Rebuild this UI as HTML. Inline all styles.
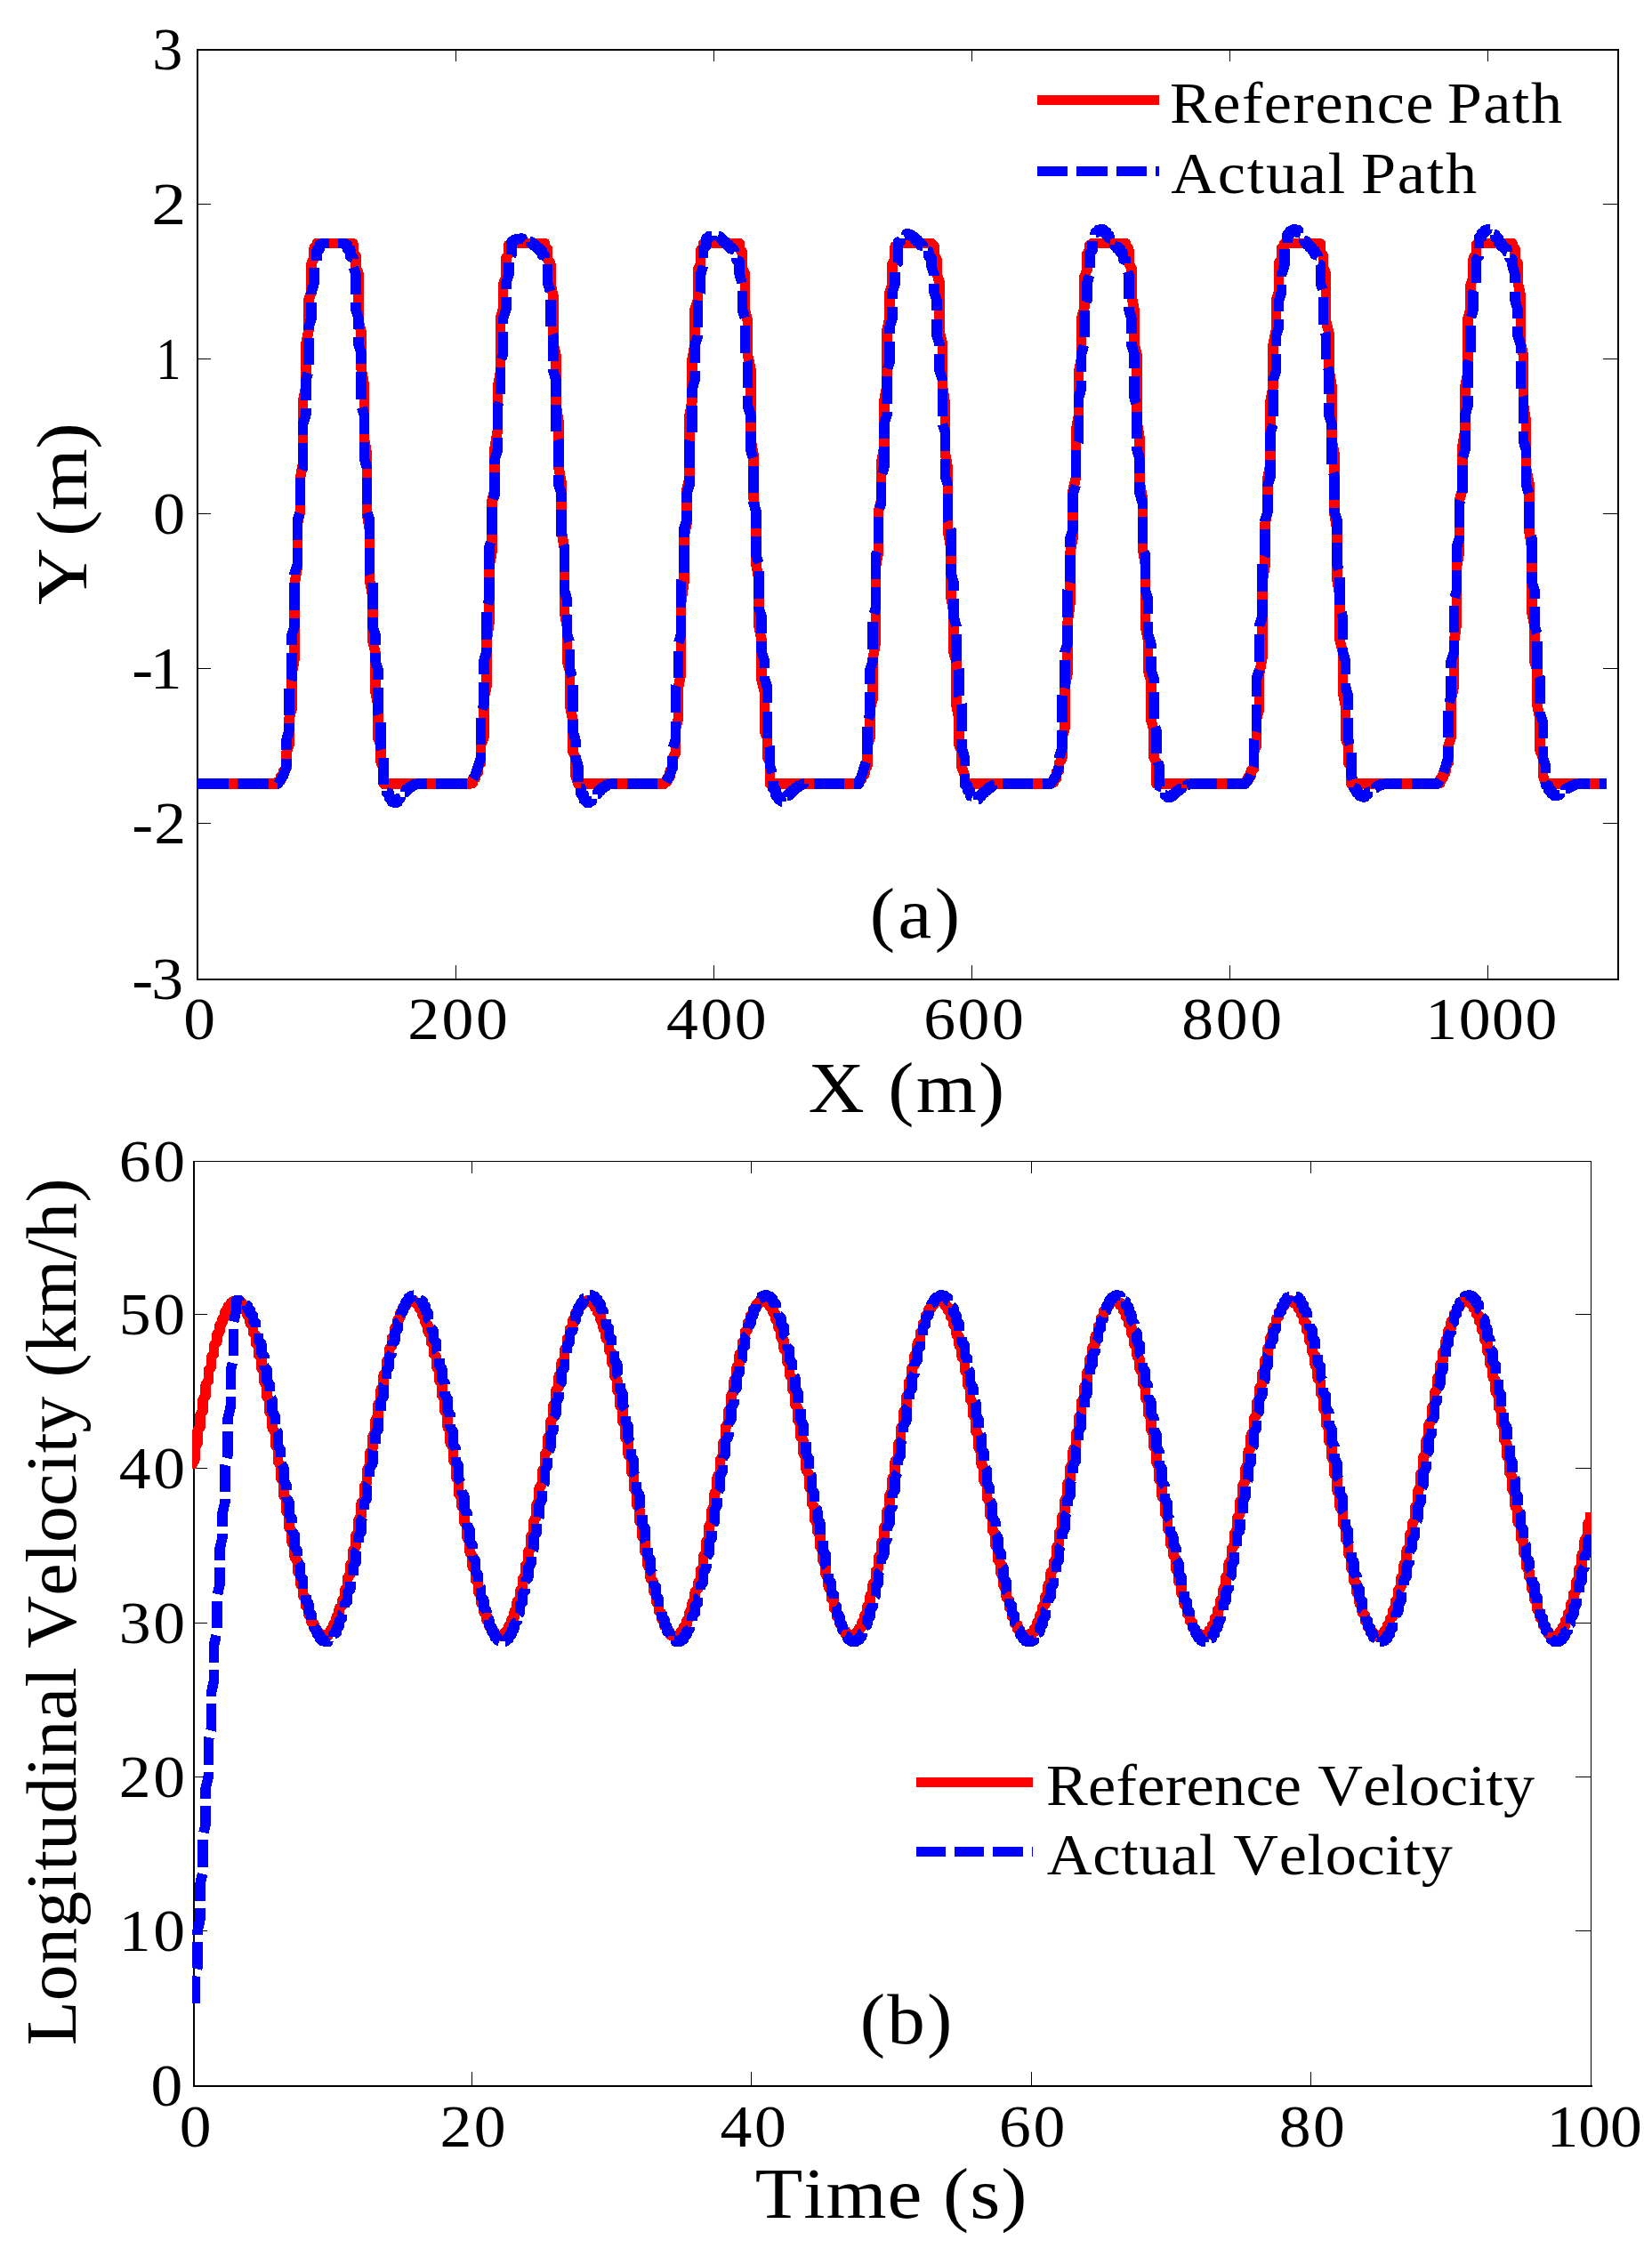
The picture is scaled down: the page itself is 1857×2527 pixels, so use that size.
<!DOCTYPE html>
<html lang="en"><head><meta charset="utf-8"><title>Path and velocity tracking</title>
<style>
html,body{margin:0;padding:0;background:#fff}
svg{display:block}
text{white-space:pre}
</style></head>
<body>
<svg width="1857" height="2527" viewBox="0 0 1857 2527">
<rect width="1857" height="2527" fill="#fff"/>
<g shape-rendering="crispEdges" fill="none" stroke="#000">
<rect x="222" y="56" width="1597" height="1045" stroke-width="2"/>
<path d="M512.5,1100V1085M512.5,57V69M802.5,1100V1085M802.5,57V69M1092.5,1100V1085M1092.5,57V69M1382.5,1100V1085M1382.5,57V69M1672.5,1100V1085M1672.5,57V69M223,925.5H237M1818,925.5H1802M223,751.5H237M1818,751.5H1802M223,577.5H237M1818,577.5H1802M223,403.5H237M1818,403.5H1802M223,229.5H237M1818,229.5H1802" stroke-width="1.2"/>
</g>
<g fill="none" stroke-linejoin="round" shape-rendering="crispEdges">
<polyline points="221.9,881.1 221.9,881.1 225.0,881.1 225.0,881.1 228.1,881.1 228.1,881.1 231.2,881.1 231.2,881.1 234.4,881.1 234.4,881.1 237.5,881.1 237.5,881.1 240.6,881.1 240.6,881.1 243.8,881.1 243.8,881.1 246.9,881.1 246.9,881.1 250.0,881.1 250.0,881.1 253.1,881.1 253.1,881.1 256.2,881.1 256.2,881.1 259.4,881.1 259.4,881.1 262.5,881.1 262.5,881.1 265.6,881.1 265.6,881.1 268.8,881.1 268.8,881.1 271.9,881.1 271.9,881.1 275.0,881.1 275.0,881.1 278.1,881.1 278.1,881.1 281.2,881.1 281.2,881.1 284.4,881.1 284.4,881.1 287.5,881.1 287.5,881.1 290.6,881.1 290.6,881.1 293.8,881.1 293.8,881.1 296.9,881.1 296.9,881.1 300.0,881.1 300.0,881.1 303.1,881.1 303.1,881.1 306.2,881.1 306.2,881.1 309.4,881.1 309.4,881.1 312.5,881.1 312.5,878.5 315.6,877.3 315.6,873.2 318.8,871.7 318.8,866.3 321.9,863.9 321.9,846.0 325.0,837.9 325.0,808.1 328.1,796.9 328.1,757.2 331.2,740.2 331.2,655.5 334.4,637.0 334.4,589.0 337.5,574.8 337.5,537.1 340.6,520.7 340.6,450.5 343.8,434.6 343.8,387.1 346.9,371.4 346.9,337.1 350.0,328.2 350.0,296.2 353.1,290.3 353.1,278.7 356.2,276.8 356.2,273.5 359.4,273.4 359.4,273.4 362.5,273.4 362.5,273.4 365.6,273.4 365.6,273.4 368.8,273.4 368.8,273.4 371.9,273.4 371.9,273.4 375.0,273.4 375.0,273.4 378.1,273.4 378.1,273.4 381.2,273.4 381.2,273.4 384.4,273.4 384.4,273.4 387.5,273.4 387.5,273.4 390.6,273.4 390.6,273.4 393.8,273.4 393.8,273.4 396.9,273.9 396.9,283.5 400.0,287.4 400.0,301.1 403.1,307.6 403.1,361.4 406.2,373.7 406.2,414.8 409.4,433.6 409.4,493.4 412.5,510.2 412.5,578.1 415.6,597.1 415.6,652.5 418.8,670.6 418.8,720.1 421.9,733.1 421.9,777.7 425.0,793.4 425.0,830.2 428.1,837.9 428.1,857.1 431.2,862.8 431.2,881.1 434.4,881.1 434.4,881.1 437.5,881.1 437.5,881.1 440.6,881.1 440.6,881.1 443.8,881.1 443.8,881.1 446.9,881.1 446.9,881.1 450.0,881.1 450.0,881.1 453.1,881.1 453.1,881.1 456.2,881.1 456.2,881.1 459.4,881.1 459.4,881.1 462.5,881.1 462.5,881.1 465.6,881.1 465.6,881.1 468.8,881.1 468.8,881.1 471.9,881.1 471.9,881.1 475.0,881.1 475.0,881.1 478.1,881.1 478.1,881.1 481.2,881.1 481.2,881.1 484.4,881.1 484.4,881.1 487.5,881.1 487.5,881.1 490.6,881.1 490.6,881.1 493.8,881.1 493.8,881.1 496.9,881.1 496.9,881.1 500.0,881.1 500.0,881.1 503.1,881.1 503.1,881.1 506.2,881.1 506.2,881.1 509.4,881.1 509.4,881.1 512.5,881.1 512.5,881.1 515.6,881.1 515.6,881.1 518.8,881.1 518.8,881.1 521.9,881.1 521.9,881.1 525.0,881.1 525.0,881.1 528.1,881.1 528.1,881.1 531.2,880.4 531.2,876.0 534.4,874.7 534.4,870.1 537.5,868.3 537.5,861.2 540.6,857.9 540.6,837.9 543.8,829.2 543.8,785.2 546.9,772.2 546.9,721.7 550.0,700.3 550.0,637.0 553.1,619.9 553.1,562.0 556.2,550.4 556.2,502.6 559.4,484.1 559.4,434.6 562.5,418.9 562.5,357.9 565.6,346.8 565.6,319.8 568.8,311.4 568.8,290.3 571.9,285.5 571.9,275.2 575.0,274.0 575.0,273.4 578.1,273.4 578.1,273.4 581.2,273.4 581.2,273.4 584.4,273.4 584.4,273.4 587.5,273.4 587.5,273.4 590.6,273.4 590.6,273.4 593.8,273.4 593.8,273.4 596.9,273.4 596.9,273.4 600.0,273.4 600.0,273.4 603.1,273.4 603.1,273.4 606.2,273.4 606.2,273.4 609.4,273.4 609.4,273.4 612.5,273.4 612.5,276.7 615.6,279.9 615.6,291.5 618.8,295.9 618.8,317.7 621.9,332.6 621.9,386.1 625.0,399.5 625.0,454.6 628.1,475.1 628.1,526.4 631.2,542.8 631.2,597.1 634.4,616.1 634.4,688.2 637.5,704.9 637.5,744.1 640.6,754.3 640.6,793.4 643.8,809.0 643.8,844.9 646.9,851.5 646.9,871.5 650.0,881.1 650.0,881.1 653.1,881.1 653.1,881.1 656.2,881.1 656.2,881.1 659.4,881.1 659.4,881.1 662.5,881.1 662.5,881.1 665.6,881.1 665.6,881.1 668.8,881.1 668.8,881.1 671.9,881.1 671.9,881.1 675.0,881.1 675.0,881.1 678.1,881.1 678.1,881.1 681.2,881.1 681.2,881.1 684.4,881.1 684.4,881.1 687.5,881.1 687.5,881.1 690.6,881.1 690.6,881.1 693.8,881.1 693.8,881.1 696.9,881.1 696.9,881.1 700.0,881.1 700.0,881.1 703.1,881.1 703.1,881.1 706.2,881.1 706.2,881.1 709.4,881.1 709.4,881.1 712.5,881.1 712.5,881.1 715.6,881.1 715.6,881.1 718.8,881.1 718.8,881.1 721.9,881.1 721.9,881.1 725.0,881.1 725.0,881.1 728.1,881.1 728.1,881.1 731.2,881.1 731.2,881.1 734.4,881.1 734.4,881.1 737.5,881.1 737.5,881.1 740.6,881.1 740.6,881.1 743.8,881.1 743.8,881.1 746.9,881.1 746.9,879.5 750.0,878.5 750.0,874.7 753.1,873.2 753.1,866.3 756.2,863.9 756.2,853.0 759.4,846.0 759.4,819.1 762.5,808.1 762.5,772.2 765.6,757.2 765.6,677.3 768.8,655.5 768.8,604.0 771.9,589.0 771.9,550.4 775.0,537.1 775.0,466.9 778.1,450.5 778.1,403.3 781.2,387.1 781.2,346.8 784.4,337.1 784.4,303.4 787.5,296.2 787.5,281.4 790.6,278.7 790.6,274.0 793.8,273.5 793.8,273.4 796.9,273.4 796.9,273.4 800.0,273.4 800.0,273.4 803.1,273.4 803.1,273.4 806.2,273.4 806.2,273.4 809.4,273.4 809.4,273.4 812.5,273.4 812.5,273.4 815.6,273.4 815.6,273.4 818.8,273.4 818.8,273.4 821.9,273.4 821.9,273.4 825.0,273.4 825.0,273.4 828.1,273.4 828.1,273.4 831.2,273.4 831.2,279.9 834.4,283.5 834.4,301.1 837.5,307.6 837.5,348.1 840.6,361.4 840.6,399.5 843.8,414.8 843.8,493.4 846.9,510.2 846.9,559.8 850.0,578.1 850.0,634.6 853.1,652.5 853.1,704.9 856.2,720.1 856.2,765.0 859.4,777.7 859.4,821.1 862.5,830.2 862.5,851.5 865.6,857.1 865.6,881.1 868.8,881.1 868.8,881.1 871.9,881.1 871.9,881.1 875.0,881.1 875.0,881.1 878.1,881.1 878.1,881.1 881.2,881.1 881.2,881.1 884.4,881.1 884.4,881.1 887.5,881.1 887.5,881.1 890.6,881.1 890.6,881.1 893.8,881.1 893.8,881.1 896.9,881.1 896.9,881.1 900.0,881.1 900.0,881.1 903.1,881.1 903.1,881.1 906.2,881.1 906.2,881.1 909.4,881.1 909.4,881.1 912.5,881.1 912.5,881.1 915.6,881.1 915.6,881.1 918.8,881.1 918.8,881.1 921.9,881.1 921.9,881.1 925.0,881.1 925.0,881.1 928.1,881.1 928.1,881.1 931.2,881.1 931.2,881.1 934.4,881.1 934.4,881.1 937.5,881.1 937.5,881.1 940.6,881.1 940.6,881.1 943.8,881.1 943.8,881.1 946.9,881.1 946.9,881.1 950.0,881.1 950.0,881.1 953.1,881.1 953.1,881.1 956.2,881.1 956.2,881.1 959.4,881.1 959.4,881.1 962.5,881.1 962.5,881.1 965.6,881.1 965.6,877.3 968.8,876.0 968.8,871.7 971.9,870.1 971.9,863.9 975.0,861.2 975.0,837.9 978.1,829.2 978.1,796.9 981.2,785.2 981.2,740.2 984.4,721.7 984.4,637.0 987.5,619.9 987.5,574.8 990.6,562.0 990.6,520.7 993.8,502.6 993.8,450.5 996.9,434.6 996.9,371.4 1000.0,357.9 1000.0,328.2 1003.1,319.8 1003.1,296.2 1006.2,290.3 1006.2,276.8 1009.4,275.2 1009.4,273.4 1012.5,273.4 1012.5,273.4 1015.6,273.4 1015.6,273.4 1018.8,273.4 1018.8,273.4 1021.9,273.4 1021.9,273.4 1025.0,273.4 1025.0,273.4 1028.1,273.4 1028.1,273.4 1031.2,273.4 1031.2,273.4 1034.4,273.4 1034.4,273.4 1037.5,273.4 1037.5,273.4 1040.6,273.4 1040.6,273.4 1043.8,273.4 1043.8,273.4 1046.9,273.4 1046.9,273.9 1050.0,276.7 1050.0,287.4 1053.1,291.5 1053.1,307.6 1056.2,317.7 1056.2,373.7 1059.4,386.1 1059.4,433.6 1062.5,454.6 1062.5,510.2 1065.6,526.4 1065.6,597.1 1068.8,616.1 1068.8,670.6 1071.9,688.2 1071.9,733.1 1075.0,744.1 1075.0,793.4 1078.1,809.0 1078.1,837.9 1081.2,844.9 1081.2,862.8 1084.4,871.5 1084.4,881.1 1087.5,881.1 1087.5,881.1 1090.6,881.1 1090.6,881.1 1093.8,881.1 1093.8,881.1 1096.9,881.1 1096.9,881.1 1100.0,881.1 1100.0,881.1 1103.1,881.1 1103.1,881.1 1106.2,881.1 1106.2,881.1 1109.4,881.1 1109.4,881.1 1112.5,881.1 1112.5,881.1 1115.6,881.1 1115.6,881.1 1118.8,881.1 1118.8,881.1 1121.9,881.1 1121.9,881.1 1125.0,881.1 1125.0,881.1 1128.1,881.1 1128.1,881.1 1131.2,881.1 1131.2,881.1 1134.4,881.1 1134.4,881.1 1137.5,881.1 1137.5,881.1 1140.6,881.1 1140.6,881.1 1143.8,881.1 1143.8,881.1 1146.9,881.1 1146.9,881.1 1150.0,881.1 1150.0,881.1 1153.1,881.1 1153.1,881.1 1156.2,881.1 1156.2,881.1 1159.4,881.1 1159.4,881.1 1162.5,881.1 1162.5,881.1 1165.6,881.1 1165.6,881.1 1168.8,881.1 1168.8,881.1 1171.9,881.1 1171.9,881.1 1175.0,881.1 1175.0,881.1 1178.1,881.1 1178.1,881.1 1181.2,881.1 1181.2,880.4 1184.4,879.5 1184.4,876.0 1187.5,874.7 1187.5,868.3 1190.6,866.3 1190.6,857.9 1193.8,853.0 1193.8,829.2 1196.9,819.1 1196.9,772.2 1200.0,757.2 1200.0,700.3 1203.1,677.3 1203.1,619.9 1206.2,604.0 1206.2,550.4 1209.4,537.1 1209.4,484.1 1212.5,466.9 1212.5,418.9 1215.6,403.3 1215.6,357.9 1218.8,346.8 1218.8,311.4 1221.9,303.4 1221.9,285.5 1225.0,281.4 1225.0,275.2 1228.1,274.0 1228.1,273.4 1231.2,273.4 1231.2,273.4 1234.4,273.4 1234.4,273.4 1237.5,273.4 1237.5,273.4 1240.6,273.4 1240.6,273.4 1243.8,273.4 1243.8,273.4 1246.9,273.4 1246.9,273.4 1250.0,273.4 1250.0,273.4 1253.1,273.4 1253.1,273.4 1256.2,273.4 1256.2,273.4 1259.4,273.4 1259.4,273.4 1262.5,273.4 1262.5,273.4 1265.6,273.4 1265.6,276.7 1268.8,279.9 1268.8,295.9 1271.9,301.1 1271.9,332.6 1275.0,348.1 1275.0,386.1 1278.1,399.5 1278.1,475.1 1281.2,493.4 1281.2,542.8 1284.4,559.8 1284.4,616.1 1287.5,634.6 1287.5,704.9 1290.6,720.1 1290.6,754.3 1293.8,765.0 1293.8,809.0 1296.9,821.1 1296.9,851.5 1300.0,857.1 1300.0,881.1 1303.1,881.1 1303.1,881.1 1306.2,881.1 1306.2,881.1 1309.4,881.1 1309.4,881.1 1312.5,881.1 1312.5,881.1 1315.6,881.1 1315.6,881.1 1318.8,881.1 1318.8,881.1 1321.9,881.1 1321.9,881.1 1325.0,881.1 1325.0,881.1 1328.1,881.1 1328.1,881.1 1331.2,881.1 1331.2,881.1 1334.4,881.1 1334.4,881.1 1337.5,881.1 1337.5,881.1 1340.6,881.1 1340.6,881.1 1343.8,881.1 1343.8,881.1 1346.9,881.1 1346.9,881.1 1350.0,881.1 1350.0,881.1 1353.1,881.1 1353.1,881.1 1356.2,881.1 1356.2,881.1 1359.4,881.1 1359.4,881.1 1362.5,881.1 1362.5,881.1 1365.6,881.1 1365.6,881.1 1368.8,881.1 1368.8,881.1 1371.9,881.1 1371.9,881.1 1375.0,881.1 1375.0,881.1 1378.1,881.1 1378.1,881.1 1381.2,881.1 1381.2,881.1 1384.4,881.1 1384.4,881.1 1387.5,881.1 1387.5,881.1 1390.6,881.1 1390.6,881.1 1393.8,881.1 1393.8,881.1 1396.9,881.1 1396.9,881.1 1400.0,881.1 1400.0,878.5 1403.1,877.3 1403.1,873.2 1406.2,871.7 1406.2,866.3 1409.4,863.9 1409.4,846.0 1412.5,837.9 1412.5,808.1 1415.6,796.9 1415.6,757.2 1418.8,740.2 1418.8,655.5 1421.9,637.0 1421.9,589.0 1425.0,574.8 1425.0,537.1 1428.1,520.7 1428.1,450.5 1431.2,434.6 1431.2,387.1 1434.4,371.4 1434.4,337.1 1437.5,328.2 1437.5,296.2 1440.6,290.3 1440.6,278.7 1443.8,276.8 1443.8,273.5 1446.9,273.4 1446.9,273.4 1450.0,273.4 1450.0,273.4 1453.1,273.4 1453.1,273.4 1456.2,273.4 1456.2,273.4 1459.4,273.4 1459.4,273.4 1462.5,273.4 1462.5,273.4 1465.6,273.4 1465.6,273.4 1468.8,273.4 1468.8,273.4 1471.9,273.4 1471.9,273.4 1475.0,273.4 1475.0,273.4 1478.1,273.4 1478.1,273.4 1481.2,273.4 1481.2,273.4 1484.4,273.9 1484.4,283.5 1487.5,287.4 1487.5,301.1 1490.6,307.6 1490.6,361.4 1493.8,373.7 1493.8,414.8 1496.9,433.6 1496.9,493.4 1500.0,510.2 1500.0,578.1 1503.1,597.1 1503.1,652.5 1506.2,670.6 1506.2,720.1 1509.4,733.1 1509.4,777.7 1512.5,793.4 1512.5,830.2 1515.6,837.9 1515.6,857.1 1518.8,862.8 1518.8,881.1 1521.9,881.1 1521.9,881.1 1525.0,881.1 1525.0,881.1 1528.1,881.1 1528.1,881.1 1531.2,881.1 1531.2,881.1 1534.4,881.1 1534.4,881.1 1537.5,881.1 1537.5,881.1 1540.6,881.1 1540.6,881.1 1543.8,881.1 1543.8,881.1 1546.9,881.1 1546.9,881.1 1550.0,881.1 1550.0,881.1 1553.1,881.1 1553.1,881.1 1556.2,881.1 1556.2,881.1 1559.4,881.1 1559.4,881.1 1562.5,881.1 1562.5,881.1 1565.6,881.1 1565.6,881.1 1568.8,881.1 1568.8,881.1 1571.9,881.1 1571.9,881.1 1575.0,881.1 1575.0,881.1 1578.1,881.1 1578.1,881.1 1581.2,881.1 1581.2,881.1 1584.4,881.1 1584.4,881.1 1587.5,881.1 1587.5,881.1 1590.6,881.1 1590.6,881.1 1593.8,881.1 1593.8,881.1 1596.9,881.1 1596.9,881.1 1600.0,881.1 1600.0,881.1 1603.1,881.1 1603.1,881.1 1606.2,881.1 1606.2,881.1 1609.4,881.1 1609.4,881.1 1612.5,881.1 1612.5,881.1 1615.6,881.1 1615.6,881.1 1618.8,880.4 1618.8,876.0 1621.9,874.7 1621.9,870.1 1625.0,868.3 1625.0,861.2 1628.1,857.9 1628.1,837.9 1631.2,829.2 1631.2,785.2 1634.4,772.2 1634.4,721.7 1637.5,700.3 1637.5,637.0 1640.6,619.9 1640.6,562.0 1643.8,550.4 1643.8,502.6 1646.9,484.1 1646.9,434.6 1650.0,418.9 1650.0,357.9 1653.1,346.8 1653.1,319.8 1656.2,311.4 1656.2,290.3 1659.4,285.5 1659.4,275.2 1662.5,274.0 1662.5,273.4 1665.6,273.4 1665.6,273.4 1668.8,273.4 1668.8,273.4 1671.9,273.4 1671.9,273.4 1675.0,273.4 1675.0,273.4 1678.1,273.4 1678.1,273.4 1681.2,273.4 1681.2,273.4 1684.4,273.4 1684.4,273.4 1687.5,273.4 1687.5,273.4 1690.6,273.4 1690.6,273.4 1693.8,273.4 1693.8,273.4 1696.9,273.4 1696.9,273.4 1700.0,273.4 1700.0,276.7 1703.1,279.9 1703.1,291.5 1706.2,295.9 1706.2,317.7 1709.4,332.6 1709.4,386.1 1712.5,399.5 1712.5,454.6 1715.6,475.1 1715.6,526.4 1718.8,542.8 1718.8,597.1 1721.9,616.1 1721.9,688.2 1725.0,704.9 1725.0,744.1 1728.1,754.3 1728.1,793.4 1731.2,809.0 1731.2,844.9 1734.4,851.5 1734.4,871.5 1737.5,881.1 1737.5,881.1 1740.6,881.1 1740.6,881.1 1743.8,881.1 1743.8,881.1 1746.9,881.1 1746.9,881.1 1750.0,881.1 1750.0,881.1 1753.1,881.1 1753.1,881.1 1756.2,881.1 1756.2,881.1 1759.4,881.1 1759.4,881.1 1762.5,881.1 1762.5,881.1 1765.6,881.1 1765.6,881.1 1768.8,881.1 1768.8,881.1 1771.9,881.1 1771.9,881.1 1775.0,881.1 1775.0,881.1 1778.1,881.1 1778.1,881.1 1781.2,881.1 1781.2,881.1 1784.4,881.1 1784.4,881.1 1787.5,881.1 1787.5,881.1 1790.6,881.1 1790.6,881.1 1793.8,881.1 1793.8,881.1 1796.9,881.1 1796.9,881.1 1800.0,881.1 1800.0,881.1 1803.1,881.1 1803.1,881.1 1806.2,881.1 1806.2,881.1" stroke="#f00" stroke-width="11.5"/>
<path d="M221.9,881.1 L256.7,881.1M267.1,881.1 L301.9,881.1M312.3,881.1 L312.5,881.1 L318.8,871.2 L321.9,861.3 L321.9,852.5M321.9,843.4 L321.9,831.7 L325.0,821.8 L325.0,813.2M325.0,804.1 L325.0,773.6M327.4,764.8 L328.1,762.6 L328.1,734.3M328.1,725.2 L328.1,713.3 L331.2,703.4 L331.2,695.0M331.2,685.9 L331.2,655.4M331.2,646.3 L331.2,644.2 L334.4,634.3 L334.4,616.1M334.4,607.0 L334.4,584.9 L337.0,576.8M337.5,567.7 L337.5,537.2M339.8,528.3 L340.6,525.7 L340.6,497.9M340.6,488.8 L340.6,476.4 L343.8,466.5 L343.8,458.6M343.8,449.5 L343.8,427.0 L346.2,419.3M346.9,410.2 L346.9,379.7M346.9,370.6 L346.9,367.8 L350.0,357.9 L350.0,340.4M350.0,331.3 L350.0,328.3 L353.1,318.4 L353.1,301.2M356.2,293.3 L356.2,280.8 L359.4,279.7 L359.4,274.8 L362.5,274.4 L362.5,273.4 L365.6,273.4 L368.8,273.4 L369.9,273.4M380.3,273.4 L381.2,273.4 L384.4,273.4 L387.5,273.4 L387.5,275.1 L390.6,275.5 L390.6,280.1 L393.8,280.7 L393.8,288.6 L396.9,289.9 L396.9,291.4M397.4,300.5 L400.0,308.6 L400.0,330.7M400.0,339.8 L400.0,348.0 L403.1,357.9 L403.1,370.0M403.1,379.1 L403.1,387.5 L406.2,397.4 L406.2,409.2M406.2,418.4 L406.2,448.9M406.7,458.0 L409.4,466.5 L409.4,488.2M409.4,497.3 L409.4,515.8 L412.5,525.7 L412.5,527.4M412.5,536.6 L412.5,567.1M412.8,576.2 L415.6,584.9 L415.6,606.4M415.6,615.5 L415.6,644.2 L416.2,645.9M418.8,654.8 L418.8,685.3M418.8,694.4 L418.8,703.4 L421.9,713.3 L421.9,724.6M421.9,733.7 L421.9,742.9 L425.0,752.7 L425.0,763.8M425.0,773.0 L425.0,802.1 L425.4,803.4M428.1,812.2 L428.1,841.6 L428.5,842.7M431.2,851.5 L431.2,882.0M434.4,889.2 L434.4,890.8 L437.5,891.6 L437.5,897.1 L440.6,897.8 L440.6,901.7 L443.8,902.0 L443.8,902.3 L446.9,901.8 L446.9,897.9 L450.0,897.5 L450.0,896.1M454.8,890.5 L456.2,890.4 L456.2,887.6 L459.4,887.2 L459.4,885.2 L462.5,884.9 L462.5,883.0 L465.6,882.8 L465.6,881.5 L468.8,881.4 L468.8,881.1 L479.9,881.1M490.3,881.1 L525.0,881.1 L525.1,881.1M531.7,875.4 L534.4,871.2 L537.5,861.3 L540.6,851.4 L540.6,846.2M540.6,837.1 L540.6,806.6M542.0,797.6 L543.8,792.2 L543.8,767.3M543.8,758.2 L543.8,742.9 L546.9,733.0 L546.9,728.0M546.9,718.9 L546.9,688.4M548.2,679.4 L550.0,673.8 L550.0,649.1M550.0,640.0 L550.0,614.5 L551.6,609.6M553.1,600.7 L553.1,570.2M554.4,561.2 L556.2,555.3 L556.2,530.9M556.2,521.8 L556.2,515.8 L559.4,506.0 L559.4,491.6M559.4,482.5 L559.4,456.6 L560.8,452.1M562.5,443.2 L562.5,412.7M563.6,403.7 L565.6,397.4 L565.6,373.4M565.6,364.3 L565.6,357.9 L568.8,348.0 L568.8,334.1M568.8,325.0 L568.8,318.4 L571.9,308.6 L571.9,294.9M574.7,286.7 L575.0,286.4 L575.0,271.1 L578.1,270.9 L578.1,269.4 L581.2,269.2 L581.2,268.5 L584.4,268.5 L584.4,268.2 L587.5,268.2 L587.5,268.9 L588.4,268.9M596.0,271.8 L596.9,271.8 L596.9,273.6 L600.0,273.9 L600.0,276.1 L603.1,276.3 L603.1,278.5 L606.2,278.8 L606.2,281.4 L609.4,281.8 L609.4,286.6 L612.5,287.6 L612.5,289.9M615.6,297.2 L615.6,318.4 L618.5,327.4M618.8,336.5 L618.8,367.0M621.3,375.9 L621.9,377.7 L621.9,406.3M621.9,415.4 L621.9,417.1 L625.0,427.0 L625.0,445.6M625.0,454.7 L625.0,485.2M627.5,494.1 L628.1,496.1 L628.1,524.5M628.1,533.6 L628.1,545.5 L631.2,555.3 L631.2,563.8M631.2,572.9 L631.2,603.4M633.7,612.3 L634.4,614.5 L634.4,642.7M634.4,651.8 L634.4,663.9 L637.5,673.8 L637.5,682.0M637.5,691.1 L637.5,713.3 L640.1,721.3M640.6,730.4 L640.6,752.7 L643.1,760.6M643.8,769.7 L643.8,800.2M643.8,809.3 L643.8,821.8 L646.9,831.7 L646.9,839.5M646.9,848.6 L646.9,851.4 L650.0,861.3 L650.0,878.7M653.0,886.0 L653.1,886.0 L653.1,892.5 L656.2,893.4 L656.2,899.0 L659.4,899.6 L659.4,902.2 L662.5,902.4 L662.5,900.8 L665.6,900.3 L665.6,897.5M671.4,892.8 L671.9,892.7 L671.9,889.6 L675.0,889.3 L675.0,886.6 L678.1,886.3 L678.1,884.4 L681.2,884.1 L681.2,882.4 L684.4,882.2 L684.4,881.3 L687.5,881.2 L687.5,881.1 L694.2,881.1M704.6,881.1 L739.4,881.1M748.3,878.8 L753.1,871.2 L756.2,861.3 L756.2,849.7M756.5,840.7 L759.4,831.7 L759.4,810.5M759.4,801.3 L759.4,772.5 L759.9,770.9M762.5,762.1 L762.5,731.5M762.7,722.4 L765.6,713.3 L765.6,692.3M765.6,683.1 L765.6,654.0 L766.1,652.7M768.8,643.9 L768.8,613.3M768.8,604.2 L768.8,594.8 L771.9,584.9 L771.9,574.1M771.9,564.9 L771.9,555.3 L775.0,545.5 L775.0,534.8M775.0,525.7 L775.0,496.1 L775.3,495.2M778.1,486.4 L778.1,486.2 L778.1,455.9M778.1,446.7 L778.1,436.9 L781.2,427.0 L781.2,416.6M781.2,407.5 L781.2,387.5 L784.4,377.7 L784.4,377.3M784.4,368.2 L784.4,338.2 L784.5,337.7M787.3,328.9 L787.5,328.3 L787.5,308.6 L790.6,298.8M790.6,289.6 L790.6,279.8 L793.8,277.1 L793.8,267.9 L796.9,267.6 L796.9,265.5 L800.0,265.3 L800.0,265.2M807.3,265.8 L809.4,266.0 L809.4,268.3 L812.5,268.6 L812.5,271.3 L815.6,271.7 L815.6,274.4 L818.8,274.8 L818.8,277.4 L821.9,277.7 L821.9,280.0 L825.0,280.3 L825.0,282.6M828.1,289.5 L828.1,292.7 L831.2,293.9 L831.2,308.6 L834.2,317.9M834.4,327.1 L834.4,348.0 L837.3,357.2M837.5,366.3 L837.5,396.9M840.1,405.7 L840.6,407.3 L840.6,436.1M840.6,445.3 L840.6,456.6 L843.8,466.5 L843.8,475.4M843.8,484.5 L843.8,506.0 L846.5,514.7M846.9,523.8 L846.9,554.3M846.9,563.5 L846.9,565.2 L850.0,575.1 L850.0,593.6M850.0,602.7 L850.0,624.4 L852.7,632.9M853.1,642.0 L853.1,672.5M853.1,681.7 L853.1,683.6 L856.2,693.5 L856.2,711.8M856.2,720.9 L856.2,733.0 L859.4,742.9 L859.4,751.1M859.4,760.2 L859.4,762.6 L862.5,772.5 L862.5,790.4M862.5,799.5 L862.5,830.0M864.8,838.9 L865.6,841.6 L865.6,861.3 L868.1,869.0M868.8,878.0 L868.8,886.5 L871.9,887.4 L871.9,893.8 L875.0,894.5 L875.0,898.5 L878.1,899.0 L878.1,901.0 L879.4,901.0M884.4,895.9 L884.4,894.5 L887.5,894.1 L887.5,891.0 L890.6,890.7 L890.6,888.0 L893.8,887.7 L893.8,885.6 L896.9,885.4 L896.9,883.4 L900.0,883.2 L900.0,882.0 L903.1,881.8 L903.1,881.1 L904.1,881.1M914.5,881.1 L949.3,881.1M959.7,881.1 L965.6,881.1 L968.8,871.2 L971.9,861.3 L973.3,856.7M975.0,847.7 L975.0,817.2M976.2,808.2 L978.1,802.1 L978.1,777.9M978.1,768.8 L978.1,752.7 L981.2,742.9 L981.2,738.7M981.2,729.5 L981.2,699.0M982.4,690.0 L984.4,683.6 L984.4,659.7M984.4,650.6 L984.4,624.4 L985.7,620.2M987.5,611.3 L987.5,580.8M988.5,571.8 L990.6,565.2 L990.6,541.5M991.6,532.5 L993.8,525.7 L993.8,502.3M993.8,493.1 L993.8,476.4 L996.9,466.5 L996.9,463.0M996.9,453.9 L996.9,423.3M997.8,414.3 L1000.0,407.3 L1000.0,384.1M1000.0,374.9 L1000.0,367.8 L1003.1,357.9 L1003.1,344.8M1003.1,335.7 L1003.1,328.3 L1006.2,318.4 L1006.2,305.5M1007.9,296.9 L1009.4,295.4 L1009.4,272.4 L1012.5,270.7 L1012.5,268.4M1018.3,263.9 L1018.8,263.9 L1018.8,263.0 L1021.9,263.0 L1021.9,263.9 L1025.0,264.1 L1025.0,266.2 L1028.1,266.5 L1028.1,269.0 L1031.2,269.4 L1031.2,272.1 L1034.4,272.5 L1034.4,275.7 L1037.5,276.1 L1037.5,277.4M1043.1,282.3 L1043.8,282.4 L1043.8,288.1 L1046.9,289.2 L1046.9,298.7 L1050.0,308.6 L1050.0,310.1M1050.0,319.2 L1050.0,328.3 L1053.1,338.2 L1053.1,349.4M1053.1,358.5 L1053.1,377.7 L1056.2,387.5 L1056.2,388.6M1056.2,397.8 L1056.2,417.1 L1059.4,427.0 L1059.4,427.9M1059.4,437.0 L1059.4,467.6M1059.5,476.7 L1062.5,486.2 L1062.5,506.8M1062.5,516.0 L1062.5,535.6 L1065.6,545.5 L1065.6,546.1M1065.6,555.2 L1065.6,584.9 L1065.9,585.7M1068.7,594.5 L1068.8,594.8 L1068.8,625.0M1068.8,634.2 L1068.8,644.2 L1071.9,654.0 L1071.9,664.3M1071.9,673.4 L1071.9,693.5 L1075.0,703.4 L1075.0,703.6M1075.0,712.7 L1075.0,742.9 L1075.1,743.2M1077.9,752.0 L1078.1,752.7 L1078.1,782.3 L1078.2,782.5M1081.0,791.3 L1081.2,792.2 L1081.2,821.8M1081.2,830.9 L1081.2,841.6 L1084.4,851.4 L1084.4,861.1M1084.4,870.2 L1084.4,881.9 L1087.5,882.7 L1087.5,888.4 L1090.6,889.2 L1090.6,894.6 L1092.9,895.0M1099.3,898.6 L1100.0,898.5 L1100.0,895.2 L1103.1,894.8 L1103.1,892.2 L1106.2,891.9 L1106.2,889.2 L1109.4,888.9 L1109.4,886.8 L1112.5,886.5 L1112.5,884.5 L1115.6,884.3 L1115.6,882.7 L1117.7,882.6M1126.6,881.1 L1161.4,881.1M1171.8,881.1 L1178.1,881.1 L1181.2,881.1 L1187.5,871.2 L1190.6,861.3 L1190.6,860.6M1190.6,851.5 L1190.6,851.4 L1193.8,841.6 L1193.8,821.4M1193.8,812.2 L1193.8,782.3 L1193.9,781.7M1196.7,772.9 L1196.9,772.5 L1196.9,742.4M1196.9,733.3 L1196.9,733.0 L1200.0,723.1 L1200.0,703.2M1200.0,694.0 L1200.0,663.9 L1200.1,663.5M1202.9,654.7 L1203.1,654.0 L1203.1,624.2M1203.1,615.1 L1203.1,604.7 L1206.2,594.8 L1206.2,585.0M1206.2,575.8 L1206.2,555.3 L1209.3,545.7M1209.4,536.6 L1209.4,506.0M1212.1,497.2 L1212.5,496.1 L1212.5,466.8M1212.5,457.6 L1212.5,446.7 L1215.6,436.9 L1215.6,427.5M1215.6,418.4 L1215.6,397.4 L1218.5,388.2M1218.8,379.1 L1218.8,348.6M1221.4,339.8 L1221.9,338.2 L1221.9,318.4 L1224.7,309.6M1225.0,300.5 L1225.0,284.8 L1228.1,281.5 L1228.1,271.0M1231.2,264.0 L1231.2,261.3 L1234.4,260.9 L1234.4,258.4 L1237.5,258.2 L1237.5,257.8 L1240.6,257.9 L1240.6,260.3 L1243.8,260.7 L1243.8,264.5 L1246.9,264.9 L1246.9,268.3 L1248.7,268.7M1253.1,274.6 L1253.1,277.0 L1256.2,277.3 L1256.2,279.9 L1259.4,280.3 L1259.4,284.0 L1262.5,284.7 L1262.5,291.4 L1265.6,292.6 L1265.6,296.3M1267.7,305.2 L1268.8,308.6 L1268.8,335.6M1268.8,344.7 L1268.8,348.0 L1271.9,357.9 L1271.9,374.9M1271.9,384.0 L1271.9,387.5 L1275.0,397.4 L1275.0,414.1M1275.0,423.3 L1275.0,446.7 L1277.1,453.5M1278.1,462.5 L1278.1,493.1M1278.1,502.2 L1278.1,506.0 L1281.2,515.8 L1281.2,532.3M1281.2,541.5 L1281.2,555.3 L1284.4,565.2 L1284.4,571.6M1284.4,580.7 L1284.4,611.3M1286.2,620.2 L1287.5,624.4 L1287.5,650.5M1287.5,659.7 L1287.5,663.9 L1290.6,673.8 L1290.6,689.8M1290.6,698.9 L1290.6,713.3 L1293.8,723.1 L1293.8,729.1M1293.8,738.2 L1293.8,752.7 L1296.9,762.6 L1296.9,768.4M1296.9,777.5 L1296.9,808.0M1298.5,817.0 L1300.0,821.8 L1300.0,847.3M1301.5,856.2 L1303.1,861.3 L1303.1,883.9 L1306.0,884.6M1309.4,891.4 L1309.4,894.0 L1312.5,894.4 L1312.5,896.5 L1315.6,896.6 L1315.6,895.3 L1318.8,894.9 L1318.8,892.2 L1321.9,891.9 L1321.9,889.4 L1325.0,889.1 L1325.0,887.2 L1328.1,887.0 L1328.1,886.1M1334.4,882.1 L1334.4,882.0 L1337.5,881.9 L1337.5,881.2 L1340.6,881.1 L1340.6,881.1 L1368.2,881.1M1378.6,881.1 L1393.8,881.1 L1400.0,881.1 L1406.2,871.2 L1406.4,870.7M1409.2,861.9 L1409.4,861.3 L1409.4,831.7 L1409.5,831.4M1412.2,822.6 L1412.5,821.8 L1412.5,792.1M1412.5,783.0 L1412.5,762.6 L1415.6,752.9M1415.6,743.7 L1415.6,713.2M1415.6,704.1 L1415.6,703.4 L1418.8,693.5 L1418.8,673.9M1418.8,664.8 L1418.8,634.3M1421.5,625.5 L1421.9,624.4 L1421.9,595.0M1421.9,585.9 L1421.9,584.9 L1425.0,575.1 L1425.0,555.7M1425.0,546.6 L1425.0,545.5 L1428.1,535.6 L1428.1,516.5M1428.1,507.3 L1428.1,486.2 L1431.0,477.2M1431.2,468.1 L1431.2,437.5M1431.2,428.4 L1431.2,427.0 L1434.4,417.1 L1434.4,398.3M1434.4,389.1 L1434.4,377.7 L1437.5,367.8 L1437.5,359.0M1437.5,349.9 L1437.5,338.2 L1440.6,328.3 L1440.6,319.7M1440.6,310.6 L1440.6,308.6 L1443.8,298.7 L1443.8,280.4M1446.9,272.5 L1446.9,263.9 L1450.0,263.3 L1450.0,259.7 L1453.1,259.4 L1453.1,258.0 L1456.2,257.9 L1456.2,258.6 L1459.4,258.8 L1459.4,261.6 L1462.0,262.0M1465.6,268.5 L1465.6,270.6 L1468.8,271.2 L1468.8,274.9 L1471.9,275.4 L1471.9,278.3 L1475.0,278.6 L1475.0,281.5 L1478.1,281.9 L1478.1,286.3 L1481.2,287.2 L1481.2,287.7M1481.7,296.6 L1484.4,297.7 L1484.4,318.4 L1486.6,325.3M1487.5,334.4 L1487.5,364.9M1489.4,373.8 L1490.6,377.7 L1490.6,404.2M1492.5,413.1 L1493.8,417.1 L1493.8,443.4M1493.8,452.6 L1493.8,466.5 L1496.9,476.4 L1496.9,482.7M1496.9,491.8 L1496.9,522.4M1498.6,531.3 L1500.0,535.6 L1500.0,561.6M1500.0,570.8 L1500.0,575.1 L1503.1,584.9 L1503.1,600.9M1503.1,610.0 L1503.1,634.3 L1505.0,640.3M1506.2,649.3 L1506.2,679.8M1507.9,688.8 L1509.4,693.5 L1509.4,719.1M1509.4,728.2 L1509.4,733.0 L1512.5,742.9 L1512.5,758.4M1512.5,767.5 L1512.5,772.5 L1515.6,782.3 L1515.6,797.7M1515.6,806.8 L1515.6,831.7 L1517.3,837.1M1518.8,846.1 L1518.8,871.2 L1520.4,876.4M1521.9,885.3 L1521.9,885.8 L1525.0,886.4 L1525.0,891.0 L1528.1,891.5 L1528.1,894.6 L1531.2,894.9 L1531.2,895.8 L1534.4,895.9 L1534.4,893.2 L1537.5,892.8 L1537.5,890.4 L1540.3,890.1M1546.2,885.8 L1546.9,885.7 L1546.9,884.2 L1550.0,884.0 L1550.0,882.7 L1553.1,882.5 L1553.1,881.5 L1556.2,881.4 L1556.2,881.1 L1576.2,881.1M1586.6,881.1 L1612.5,881.1 L1615.6,881.1 L1618.4,876.7M1622.7,868.4 L1625.0,861.3 L1628.1,851.4 L1628.1,838.5M1628.1,829.4 L1628.1,798.9M1628.9,789.9 L1631.2,782.3 L1631.2,759.6M1631.2,750.5 L1631.2,742.9 L1634.4,733.0 L1634.4,720.3M1634.4,711.2 L1634.4,680.7M1635.0,671.7 L1637.5,663.9 L1637.5,641.4M1637.5,632.3 L1637.5,614.5 L1640.6,604.7 L1640.6,602.1M1640.6,593.0 L1640.6,565.2 L1641.4,562.6M1643.8,553.7 L1643.8,523.2M1644.3,514.2 L1646.9,506.0 L1646.9,483.9M1646.9,474.8 L1646.9,466.5 L1650.0,456.6 L1650.0,444.7M1650.0,435.5 L1650.0,407.3 L1650.7,405.1M1653.1,396.3 L1653.1,365.7M1653.5,356.7 L1656.2,348.0 L1656.2,328.3 L1656.8,326.5M1659.4,317.7 L1659.4,291.7 L1662.5,288.2 L1662.5,288.1M1662.5,279.0 L1662.5,267.3 L1665.6,266.4 L1665.6,262.3 L1668.8,261.8 L1668.8,258.9 L1671.9,258.6 L1671.9,257.8 L1674.8,257.8M1679.1,263.7 L1681.2,264.0 L1681.2,267.3 L1684.4,267.8 L1684.4,272.3 L1687.5,272.9 L1687.5,276.6 L1690.6,277.0 L1690.6,279.3 L1693.8,279.6 L1693.8,282.9 L1694.1,283.0M1696.9,290.1 L1696.9,290.3 L1700.0,291.4 L1700.0,298.7 L1703.1,308.6 L1703.1,318.4M1703.1,327.6 L1703.1,338.2 L1706.2,348.0 L1706.2,357.7M1706.2,366.8 L1706.2,377.7 L1709.4,387.5 L1709.4,397.0M1709.4,406.1 L1709.4,436.6M1712.1,445.4 L1712.5,446.7 L1712.5,475.9M1712.5,485.0 L1712.5,496.1 L1715.6,506.0 L1715.6,515.2M1715.6,524.3 L1715.6,545.5 L1718.5,554.5M1718.8,563.6 L1718.8,594.1M1721.3,602.9 L1721.9,604.7 L1721.9,633.4M1721.9,642.5 L1721.9,654.0 L1725.0,663.9 L1725.0,672.7M1725.0,681.8 L1725.0,703.4 L1727.7,712.0M1728.1,721.1 L1728.1,751.6M1730.6,760.4 L1731.2,762.6 L1731.2,790.9M1731.2,800.0 L1731.2,802.1 L1734.4,812.0 L1734.4,830.1M1734.4,839.3 L1734.4,851.4 L1737.5,861.3 L1737.5,869.4M1737.5,878.5 L1737.5,882.3 L1740.6,883.0 L1740.6,887.8 L1743.8,888.4 L1743.8,891.8 L1746.9,892.2 L1746.9,894.5 L1750.0,894.6 L1750.0,894.0 L1753.1,893.7 L1753.1,892.0M1759.4,887.8 L1759.4,886.8 L1762.5,886.5 L1762.5,885.0 L1765.6,884.8 L1765.6,883.3 L1768.8,883.2 L1768.8,882.2 L1771.9,882.0 L1771.9,881.3 L1775.0,881.2 L1775.0,881.1 L1787.3,881.1M1797.7,881.1 L1806.2,881.1" stroke="#00f" stroke-width="11.5"/>
<path d="M1166,112.5H1303" stroke="#f00" stroke-width="11"/>
<path d="M1166,192H1303" stroke="#00f" stroke-width="11" stroke-dasharray="34.2 10.1"/>
</g>
<g font-family='"Liberation Serif", serif' style="font-kerning:none" fill="#000">
<text transform="translate(1314.98,138.00) scale(1.0800,1)" font-size="65" style="letter-spacing:1.405px;word-spacing:-5px" fill="#000">Reference Path</text>
<text transform="translate(1316.31,217.20) scale(1.0800,1)" font-size="65" style="letter-spacing:1.628px;word-spacing:-3px" fill="#000">Actual Path</text>
<text transform="translate(171.14,77.70) scale(1.0153,1)" font-size="67" style="letter-spacing:0.000px;word-spacing:0.0px" fill="#000">3</text>
<text transform="translate(170.37,251.70) scale(1.1653,1)" font-size="67" style="letter-spacing:0.000px;word-spacing:0.0px" fill="#000">2</text>
<text transform="translate(175.33,425.65) scale(0.8437,1)" font-size="67" style="letter-spacing:0.000px;word-spacing:0.0px" fill="#000">1</text>
<text transform="translate(171.94,599.75) scale(1.0811,1)" font-size="67" style="letter-spacing:0.000px;word-spacing:0.0px" fill="#000">0</text>
<text transform="translate(148.24,773.85) scale(1.0700,1)" font-size="67" style="letter-spacing:-3.227px;word-spacing:0.0px" fill="#000">-1</text>
<text transform="translate(148.24,947.95) scale(1.0700,1)" font-size="67" style="letter-spacing:1.026px;word-spacing:0.0px" fill="#000">-2</text>
<text transform="translate(148.24,1123.30) scale(1.0700,1)" font-size="67" style="letter-spacing:-1.830px;word-spacing:0.0px" fill="#000">-3</text>
<text transform="translate(206.28,1168.30) scale(1.0670,1)" font-size="67" style="letter-spacing:0.000px;word-spacing:0.0px" fill="#000">0</text>
<text transform="translate(458.15,1168.30) scale(1.0700,1)" font-size="67" style="letter-spacing:2.400px">200</text>
<text transform="translate(749.03,1168.30) scale(1.0700,1)" font-size="67" style="letter-spacing:2.400px">400</text>
<text transform="translate(1038.19,1168.30) scale(1.0700,1)" font-size="67" style="letter-spacing:2.400px">600</text>
<text transform="translate(1328.36,1168.30) scale(1.0700,1)" font-size="67" style="letter-spacing:2.400px">800</text>
<text transform="translate(1602.20,1168.30) scale(1.0700,1)" font-size="67" style="letter-spacing:1.511px;word-spacing:0.0px" fill="#000">1000</text>
<text transform="translate(977.86,1054.30) scale(1.0500,1)" font-size="81" style="letter-spacing:3.277px;word-spacing:0.0px" fill="#000">(a)</text>
<text transform="translate(908.48,1249.60) scale(1.0800,1)" font-size="81" style="letter-spacing:2.179px;word-spacing:0.0px" fill="#000">X (m)</text>
<text transform="translate(96.80,680.00) rotate(-90) scale(1.1000,1)" font-size="81" style="letter-spacing:-0.352px;word-spacing:-8px" fill="#000">Y (m)</text>
</g>
<g shape-rendering="crispEdges" fill="none" stroke="#000">
<path d="M218,2345V1305.7" stroke-width="2"/>
<path d="M217,2345H1789.5" stroke-width="2"/>
<path d="M217,1305.5H1789" stroke-width="1"/>
<path d="M1788.5,1305V2346" stroke-width="1"/>
<path d="M530.5,2344V2329M530.5,1306V1319M844.5,2344V2329M844.5,1306V1319M1159.5,2344V2329M1159.5,1306V1319M1473.5,2344V2329M1473.5,1306V1319M219,2170.5H233M1788,2170.5H1771M219,1997.5H233M1788,1997.5H1771M219,1824.5H233M1788,1824.5H1771M219,1650.5H233M1788,1650.5H1771M219,1477.5H233M1788,1477.5H1771" stroke-width="1.2"/>
</g>
<clipPath id="cb"><rect x="216" y="1306" width="1573" height="1039"/></clipPath>
<g fill="none" stroke-linejoin="round" shape-rendering="crispEdges">
<g clip-path="url(#cb)"><polyline points="215.6,1650.8 215.6,1646.1 218.8,1641.4 218.8,1627.3 221.9,1622.6 221.9,1608.7 225.0,1604.1 225.0,1590.5 228.1,1586.1 228.1,1573.0 231.2,1568.7 231.2,1556.2 234.4,1552.1 234.4,1540.3 237.5,1536.5 237.5,1525.6 240.6,1522.1 240.6,1512.1 243.8,1509.0 243.8,1500.0 246.9,1497.2 246.9,1489.4 250.0,1487.0 250.0,1482.6 253.1,1480.5 253.1,1474.8 256.2,1473.2 256.2,1468.9 259.4,1467.7 259.4,1464.8 262.5,1464.0 262.5,1462.5 265.6,1462.2 265.6,1462.1 268.8,1462.3 268.8,1463.6 271.9,1464.3 271.9,1466.9 275.0,1468.1 275.0,1472.1 278.1,1473.7 278.1,1479.1 281.2,1481.2 281.2,1487.8 284.4,1490.3 284.4,1498.2 287.5,1501.0 287.5,1510.0 290.6,1513.2 290.6,1523.3 293.8,1526.8 293.8,1537.8 296.9,1541.6 296.9,1553.5 300.0,1557.6 300.0,1570.1 303.1,1574.4 303.1,1587.6 306.2,1592.0 306.2,1605.6 309.4,1610.2 309.4,1624.2 312.5,1628.8 312.5,1643.0 315.6,1647.7 315.6,1661.8 318.8,1666.5 318.8,1680.6 321.9,1685.2 321.9,1699.0 325.0,1703.6 325.0,1717.0 328.1,1721.4 328.1,1734.3 331.2,1738.5 331.2,1750.8 334.4,1754.8 334.4,1766.3 337.5,1770.0 337.5,1780.6 340.6,1784.0 340.6,1793.7 343.8,1796.7 343.8,1805.3 346.9,1807.9 346.9,1815.3 350.0,1817.6 350.0,1823.8 353.1,1825.6 353.1,1830.5 356.2,1831.8 356.2,1835.3 359.4,1836.3 359.4,1838.4 362.5,1838.9 362.5,1839.6 365.6,1839.6 365.6,1838.9 368.8,1838.4 368.8,1836.3 371.9,1835.3 371.9,1831.8 375.0,1830.4 375.0,1825.6 378.1,1823.7 378.1,1817.6 381.2,1815.3 381.2,1807.9 384.4,1805.3 384.4,1799.6 387.5,1796.7 387.5,1787.3 390.6,1784.0 390.6,1773.6 393.8,1770.0 393.8,1758.7 396.9,1754.8 396.9,1742.7 400.0,1738.5 400.0,1725.7 403.1,1721.4 403.1,1708.1 406.2,1703.6 406.2,1689.8 409.4,1685.2 409.4,1671.2 412.5,1666.5 412.5,1652.3 415.6,1647.6 415.6,1633.5 418.8,1628.8 418.8,1614.8 421.9,1610.2 421.9,1596.5 425.0,1592.0 425.0,1578.7 428.1,1574.4 428.1,1561.6 431.2,1557.5 431.2,1545.5 434.4,1541.6 434.4,1530.4 437.5,1526.8 437.5,1516.5 440.6,1513.2 440.6,1503.9 443.8,1501.0 443.8,1492.8 446.9,1490.2 446.9,1483.3 450.0,1481.1 450.0,1475.4 453.1,1473.7 453.1,1469.3 456.2,1468.1 456.2,1465.0 459.4,1464.2 459.4,1462.6 462.5,1462.3 462.5,1462.1 465.6,1462.2 465.6,1463.4 468.8,1464.0 468.8,1466.6 471.9,1467.7 471.9,1471.7 475.0,1473.2 475.0,1478.5 478.1,1480.5 478.1,1487.1 481.2,1489.5 481.2,1497.3 484.4,1500.1 484.4,1509.0 487.5,1512.2 487.5,1522.1 490.6,1525.6 490.6,1536.6 493.8,1540.4 493.8,1552.2 496.9,1556.2 496.9,1568.7 500.0,1573.0 500.0,1586.1 503.1,1590.6 503.1,1604.1 506.2,1608.7 506.2,1622.6 509.4,1627.3 509.4,1641.4 512.5,1646.1 512.5,1660.3 515.6,1665.0 515.6,1679.1 518.8,1683.7 518.8,1693.0 521.9,1697.5 521.9,1711.1 525.0,1715.6 525.0,1728.7 528.1,1733.0 528.1,1745.5 531.2,1749.5 531.2,1761.3 534.4,1765.1 534.4,1776.0 537.5,1779.5 537.5,1789.5 540.6,1792.7 540.6,1801.6 543.8,1804.4 543.8,1812.2 546.9,1814.6 546.9,1821.2 550.0,1823.1 550.0,1828.4 553.1,1830.0 553.1,1833.9 556.2,1835.0 556.2,1837.6 559.4,1838.2 559.4,1839.4 562.5,1839.5 562.5,1839.3 565.6,1839.0 565.6,1837.3 568.8,1836.6 568.8,1833.5 571.9,1832.3 571.9,1827.9 575.0,1826.2 575.0,1820.4 578.1,1818.3 578.1,1811.3 581.2,1808.8 581.2,1800.6 584.4,1797.7 584.4,1788.4 587.5,1785.1 587.5,1774.8 590.6,1771.2 590.6,1759.9 593.8,1756.0 593.8,1744.0 596.9,1739.9 596.9,1727.2 600.0,1722.8 600.0,1709.5 603.1,1705.0 603.1,1691.3 606.2,1686.7 606.2,1672.7 609.4,1668.0 609.4,1653.9 612.5,1649.2 612.5,1635.0 615.6,1630.3 615.6,1616.3 618.8,1611.7 618.8,1598.0 621.9,1593.5 621.9,1580.1 625.0,1575.8 625.0,1563.0 628.1,1558.9 628.1,1546.8 631.2,1542.9 631.2,1531.6 634.4,1527.9 634.4,1517.5 637.5,1514.2 637.5,1504.9 640.6,1501.9 640.6,1493.6 643.8,1491.1 643.8,1484.0 646.9,1481.8 646.9,1476.0 650.0,1474.3 650.0,1469.7 653.1,1468.5 653.1,1466.2 656.2,1465.3 656.2,1463.2 659.4,1462.7 659.4,1462.0 662.5,1462.0 662.5,1462.7 665.6,1463.2 665.6,1465.3 668.8,1466.3 668.8,1469.8 671.9,1471.2 671.9,1476.0 675.0,1477.9 675.0,1484.0 678.1,1486.3 678.1,1493.7 681.2,1496.4 681.2,1504.9 684.4,1508.0 684.4,1517.6 687.5,1521.0 687.5,1531.7 690.6,1535.4 690.6,1546.9 693.8,1550.8 693.8,1563.1 696.9,1567.3 696.9,1580.3 700.0,1584.7 700.0,1598.1 703.1,1602.6 703.1,1616.5 706.2,1621.1 706.2,1635.2 709.4,1639.9 709.4,1654.0 712.5,1658.7 712.5,1672.8 715.6,1677.5 715.6,1691.5 718.8,1696.0 718.8,1709.7 721.9,1714.1 721.9,1727.3 725.0,1731.6 725.0,1744.1 728.1,1748.2 728.1,1760.0 731.2,1763.9 731.2,1774.9 734.4,1778.4 734.4,1788.4 737.5,1791.6 737.5,1800.7 740.6,1803.5 740.6,1811.4 743.8,1813.8 743.8,1820.5 746.9,1822.5 746.9,1827.9 750.0,1829.5 750.0,1833.5 753.1,1834.7 753.1,1837.4 756.2,1838.0 756.2,1839.3 759.4,1839.5 759.4,1839.4 762.5,1839.1 762.5,1837.6 765.6,1836.8 765.6,1833.9 768.8,1832.7 768.8,1828.4 771.9,1826.7 771.9,1821.1 775.0,1819.0 775.0,1812.1 778.1,1809.6 778.1,1801.5 781.2,1798.6 781.2,1789.4 784.4,1786.2 784.4,1779.4 787.5,1775.9 787.5,1765.0 790.6,1761.2 790.6,1749.4 793.8,1745.4 793.8,1732.8 796.9,1728.6 796.9,1715.5 800.0,1711.0 800.0,1697.4 803.1,1692.8 803.1,1678.9 806.2,1674.3 806.2,1660.2 809.4,1655.4 809.4,1641.3 812.5,1636.6 812.5,1622.5 815.6,1617.8 815.6,1604.0 818.8,1599.5 818.8,1586.0 821.9,1581.6 821.9,1568.6 825.0,1564.4 825.0,1552.1 828.1,1548.1 828.1,1536.5 831.2,1532.8 831.2,1522.1 834.4,1518.6 834.4,1508.9 837.5,1505.8 837.5,1497.2 840.6,1494.5 840.6,1487.0 843.8,1484.7 843.8,1478.4 846.9,1476.6 846.9,1471.6 850.0,1470.2 850.0,1466.6 853.1,1465.6 853.1,1463.4 856.2,1462.9 856.2,1462.1 859.4,1462.0 859.4,1462.6 862.5,1463.0 862.5,1465.1 865.6,1466.0 865.6,1469.3 868.8,1470.7 868.8,1475.5 871.9,1477.3 871.9,1483.3 875.0,1485.5 875.0,1492.8 878.1,1495.5 878.1,1504.0 881.2,1507.0 881.2,1516.5 884.4,1519.9 884.4,1530.5 887.5,1534.1 887.5,1545.6 890.6,1549.5 890.6,1561.8 893.8,1565.9 893.8,1578.8 896.9,1583.2 896.9,1596.6 900.0,1601.1 900.0,1614.9 903.1,1619.6 903.1,1633.6 906.2,1638.3 906.2,1652.5 909.4,1657.2 909.4,1671.3 912.5,1676.0 912.5,1689.9 915.6,1694.5 915.6,1708.2 918.8,1712.7 918.8,1721.5 921.9,1725.9 921.9,1738.6 925.0,1742.8 925.0,1754.9 928.1,1758.8 928.1,1770.1 931.2,1773.7 931.2,1784.1 934.4,1787.4 934.4,1796.8 937.5,1799.7 937.5,1808.0 940.6,1810.6 940.6,1817.6 943.8,1819.8 943.8,1825.6 946.9,1827.4 946.9,1831.9 950.0,1833.1 950.0,1836.3 953.1,1837.1 953.1,1838.9 956.2,1839.2 956.2,1839.6 959.4,1839.5 959.4,1838.4 962.5,1837.8 962.5,1835.3 965.6,1834.3 965.6,1830.4 968.8,1828.9 968.8,1823.7 971.9,1821.8 971.9,1815.3 975.0,1812.9 975.0,1805.2 978.1,1802.4 978.1,1793.6 981.2,1790.5 981.2,1780.6 984.4,1777.1 984.4,1766.2 987.5,1762.4 987.5,1750.7 990.6,1746.7 990.6,1734.2 993.8,1730.0 993.8,1716.9 996.9,1712.5 996.9,1698.9 1000.0,1694.3 1000.0,1680.5 1003.1,1675.8 1003.1,1661.7 1006.2,1657.0 1006.2,1642.8 1009.4,1638.1 1009.4,1624.0 1012.5,1619.4 1012.5,1605.5 1015.6,1600.9 1015.6,1587.4 1018.8,1583.0 1018.8,1570.0 1021.9,1565.8 1021.9,1553.4 1025.0,1549.4 1025.0,1537.7 1028.1,1534.0 1028.1,1523.2 1031.2,1519.8 1031.2,1509.9 1034.4,1506.8 1034.4,1498.1 1037.5,1495.4 1037.5,1487.8 1040.6,1485.4 1040.6,1479.1 1043.8,1477.2 1043.8,1472.1 1046.9,1470.6 1046.9,1466.9 1050.0,1465.9 1050.0,1463.6 1053.1,1463.0 1053.1,1462.3 1056.2,1462.1 1056.2,1462.2 1059.4,1462.5 1059.4,1464.0 1062.5,1464.8 1062.5,1467.7 1065.6,1468.9 1065.6,1473.2 1068.8,1474.9 1068.8,1480.5 1071.9,1482.6 1071.9,1489.5 1075.0,1492.0 1075.0,1500.1 1078.1,1503.0 1078.1,1512.2 1081.2,1515.5 1081.2,1525.7 1084.4,1529.3 1084.4,1540.4 1087.5,1544.3 1087.5,1556.3 1090.6,1560.4 1090.6,1573.1 1093.8,1577.4 1093.8,1590.6 1096.9,1595.1 1096.9,1608.8 1100.0,1613.4 1100.0,1627.4 1103.1,1632.1 1103.1,1646.2 1106.2,1650.9 1106.2,1665.1 1109.4,1669.8 1109.4,1683.8 1112.5,1688.4 1112.5,1702.2 1115.6,1706.7 1115.6,1720.1 1118.8,1724.4 1118.8,1737.3 1121.9,1741.4 1121.9,1753.6 1125.0,1757.5 1125.0,1768.9 1128.1,1772.5 1128.1,1783.0 1131.2,1786.3 1131.2,1795.8 1134.4,1798.8 1134.4,1807.1 1137.5,1809.7 1137.5,1816.9 1140.6,1819.1 1140.6,1825.0 1143.8,1826.8 1143.8,1831.4 1146.9,1832.7 1146.9,1836.0 1150.0,1836.9 1150.0,1838.7 1153.1,1839.1 1153.1,1839.6 1156.2,1839.5 1156.2,1838.6 1159.4,1838.0 1159.4,1835.6 1162.5,1834.6 1162.5,1830.9 1165.6,1829.4 1165.6,1824.3 1168.8,1822.4 1168.8,1816.0 1171.9,1813.7 1171.9,1806.1 1175.0,1803.4 1175.0,1794.6 1178.1,1791.5 1178.1,1781.7 1181.2,1778.2 1181.2,1767.4 1184.4,1763.7 1184.4,1756.0 1187.5,1752.0 1187.5,1739.8 1190.6,1735.6 1190.6,1722.7 1193.8,1718.4 1193.8,1705.0 1196.9,1700.4 1196.9,1686.6 1200.0,1682.0 1200.0,1667.9 1203.1,1663.2 1203.1,1649.1 1206.2,1644.4 1206.2,1630.2 1209.4,1625.6 1209.4,1611.6 1212.5,1607.0 1212.5,1593.4 1215.6,1588.9 1215.6,1575.7 1218.8,1571.4 1218.8,1558.8 1221.9,1554.7 1221.9,1542.8 1225.0,1539.0 1225.0,1527.9 1228.1,1524.3 1228.1,1514.2 1231.2,1511.0 1231.2,1501.9 1234.4,1499.0 1234.4,1491.0 1237.5,1488.6 1237.5,1481.8 1240.6,1479.7 1240.6,1474.2 1243.8,1472.6 1243.8,1468.4 1246.9,1467.3 1246.9,1464.5 1250.0,1463.8 1250.0,1462.4 1253.1,1462.1 1253.1,1462.2 1256.2,1462.4 1256.2,1463.8 1259.4,1464.5 1259.4,1467.3 1262.5,1468.5 1262.5,1472.7 1265.6,1474.3 1265.6,1479.9 1268.8,1481.9 1268.8,1488.7 1271.9,1491.2 1271.9,1499.2 1275.0,1502.0 1275.0,1511.2 1278.1,1514.4 1278.1,1524.5 1281.2,1528.1 1281.2,1539.2 1284.4,1543.0 1284.4,1555.0 1287.5,1559.0 1287.5,1571.7 1290.6,1576.0 1290.6,1589.2 1293.8,1593.7 1293.8,1607.3 1296.9,1611.9 1296.9,1625.9 1300.0,1630.5 1300.0,1644.7 1303.1,1649.4 1303.1,1663.5 1306.2,1668.2 1306.2,1682.3 1309.4,1686.9 1309.4,1700.7 1312.5,1705.2 1312.5,1718.6 1315.6,1723.0 1315.6,1735.9 1318.8,1740.1 1318.8,1748.3 1321.9,1752.3 1321.9,1763.9 1325.0,1767.7 1325.0,1778.4 1328.1,1781.9 1328.1,1791.7 1331.2,1794.8 1331.2,1803.5 1334.4,1806.3 1334.4,1813.8 1337.5,1816.2 1337.5,1822.5 1340.6,1824.4 1340.6,1829.5 1343.8,1831.0 1343.8,1834.7 1346.9,1835.7 1346.9,1838.0 1350.0,1838.6 1350.0,1839.5 1353.1,1839.6 1353.1,1839.1 1356.2,1838.7 1356.2,1836.8 1359.4,1835.9 1359.4,1832.7 1362.5,1831.3 1362.5,1826.7 1365.6,1824.9 1365.6,1819.0 1368.8,1816.8 1368.8,1809.6 1371.9,1807.0 1371.9,1798.6 1375.0,1795.6 1375.0,1786.1 1378.1,1782.8 1378.1,1772.3 1381.2,1768.6 1381.2,1757.3 1384.4,1753.3 1384.4,1741.2 1387.5,1737.0 1387.5,1724.2 1390.6,1719.8 1390.6,1706.4 1393.8,1701.9 1393.8,1688.1 1396.9,1683.5 1396.9,1669.5 1400.0,1664.8 1400.0,1650.6 1403.1,1645.9 1403.1,1631.8 1406.2,1627.1 1406.2,1613.1 1409.4,1608.5 1409.4,1594.8 1412.5,1590.4 1412.5,1577.1 1415.6,1572.8 1415.6,1560.1 1418.8,1556.0 1418.8,1544.1 1421.9,1540.2 1421.9,1529.1 1425.0,1525.5 1425.0,1515.3 1428.1,1512.0 1428.1,1502.8 1431.2,1499.9 1431.2,1491.8 1434.4,1489.4 1434.4,1482.5 1437.5,1480.4 1437.5,1474.8 1440.6,1473.1 1440.6,1468.8 1443.8,1467.6 1443.8,1464.7 1446.9,1464.0 1446.9,1462.5 1450.0,1462.2 1450.0,1462.1 1453.1,1462.3 1453.1,1463.1 1456.2,1463.6 1456.2,1466.0 1459.4,1467.0 1459.4,1470.7 1462.5,1472.2 1462.5,1477.3 1465.6,1479.2 1465.6,1485.6 1468.8,1487.9 1468.8,1495.5 1471.9,1498.3 1471.9,1507.0 1475.0,1510.1 1475.0,1520.0 1478.1,1523.4 1478.1,1534.2 1481.2,1538.0 1481.2,1549.6 1484.4,1553.6 1484.4,1566.0 1487.5,1570.3 1487.5,1583.3 1490.6,1587.7 1490.6,1601.2 1493.8,1605.8 1493.8,1619.7 1496.9,1624.3 1496.9,1638.4 1500.0,1643.1 1500.0,1657.3 1503.1,1662.0 1503.1,1676.1 1506.2,1680.7 1506.2,1694.6 1509.4,1699.2 1509.4,1712.7 1512.5,1717.2 1512.5,1730.2 1515.6,1734.5 1515.6,1746.9 1518.8,1751.0 1518.8,1762.7 1521.9,1766.4 1521.9,1777.3 1525.0,1780.8 1525.0,1790.7 1528.1,1793.8 1528.1,1802.6 1531.2,1805.4 1531.2,1813.1 1534.4,1815.4 1534.4,1821.9 1537.5,1823.8 1537.5,1829.0 1540.6,1830.5 1540.6,1834.3 1543.8,1835.4 1543.8,1837.8 1546.9,1838.4 1546.9,1839.5 1550.0,1839.6 1550.0,1839.2 1553.1,1838.8 1553.1,1837.1 1556.2,1836.2 1556.2,1833.1 1559.4,1831.8 1559.4,1827.3 1562.5,1825.5 1562.5,1819.7 1565.6,1817.5 1565.6,1810.4 1568.8,1807.8 1568.8,1799.5 1571.9,1796.6 1571.9,1787.2 1575.0,1783.9 1575.0,1773.5 1578.1,1769.8 1578.1,1758.5 1581.2,1754.6 1581.2,1742.5 1584.4,1738.4 1584.4,1725.6 1587.5,1721.2 1587.5,1712.4 1590.6,1707.9 1590.6,1694.3 1593.8,1689.7 1593.8,1675.7 1596.9,1671.0 1596.9,1656.9 1600.0,1652.2 1600.0,1638.0 1603.1,1633.3 1603.1,1619.3 1606.2,1614.6 1606.2,1600.9 1609.4,1596.3 1609.4,1582.9 1612.5,1578.6 1612.5,1565.7 1615.6,1561.5 1615.6,1549.3 1618.8,1545.3 1618.8,1533.9 1621.9,1530.2 1621.9,1519.7 1625.0,1516.3 1625.0,1506.8 1628.1,1503.8 1628.1,1495.3 1631.2,1492.7 1631.2,1485.4 1634.4,1483.2 1634.4,1477.1 1637.5,1475.3 1637.5,1470.6 1640.6,1469.3 1640.6,1465.9 1643.8,1465.0 1643.8,1463.0 1646.9,1462.6 1646.9,1462.0 1650.0,1462.1 1650.0,1462.9 1653.1,1463.4 1653.1,1465.7 1656.2,1466.6 1656.2,1470.3 1659.4,1471.7 1659.4,1476.7 1662.5,1478.6 1662.5,1484.8 1665.6,1487.1 1665.6,1494.7 1668.8,1497.4 1668.8,1506.0 1671.9,1509.1 1671.9,1518.9 1675.0,1522.3 1675.0,1533.0 1678.1,1536.7 1678.1,1548.3 1681.2,1552.3 1681.2,1564.6 1684.4,1568.9 1684.4,1581.8 1687.5,1586.3 1687.5,1599.7 1690.6,1604.3 1690.6,1618.1 1693.8,1622.8 1693.8,1636.9 1696.9,1641.6 1696.9,1655.7 1700.0,1660.4 1700.0,1674.5 1703.1,1679.2 1703.1,1693.1 1706.2,1697.7 1706.2,1711.3 1709.4,1715.7 1709.4,1728.8 1712.5,1733.1 1712.5,1745.6 1715.6,1749.7 1715.6,1761.4 1718.8,1765.2 1718.8,1772.6 1721.9,1776.1 1721.9,1786.4 1725.0,1789.6 1725.0,1798.8 1728.1,1801.7 1728.1,1809.8 1731.2,1812.3 1731.2,1819.1 1734.4,1821.2 1734.4,1826.8 1737.5,1828.5 1737.5,1832.8 1740.6,1834.0 1740.6,1836.9 1743.8,1837.6 1743.8,1839.1 1746.9,1839.4 1746.9,1839.5 1750.0,1839.3 1750.0,1838.0 1753.1,1837.3 1753.1,1834.6 1756.2,1833.5 1756.2,1829.4 1759.4,1827.8 1759.4,1822.4 1762.5,1820.4 1762.5,1813.7 1765.6,1811.2 1765.6,1803.3 1768.8,1800.5 1768.8,1791.4 1771.9,1788.2 1771.9,1778.2 1775.0,1774.6 1775.0,1763.6 1778.1,1759.8 1778.1,1747.9 1781.2,1743.9 1781.2,1731.3 1784.4,1727.0 1784.4,1713.8 1787.5,1709.4 1787.5,1700.3" stroke="#f00" stroke-width="11.5"/>
<path d="M218.8,2251.6 L218.8,2224.8 L219.6,2221.2M221.4,2213.4 L221.9,2211.4 L221.9,2182.9M221.9,2174.9 L221.9,2171.1 L225.0,2157.7 L225.0,2144.7M225.0,2136.7 L225.0,2117.4 L227.6,2106.4M228.1,2098.5 L228.1,2068.0M229.0,2060.1 L231.2,2050.3 L231.2,2029.7M231.2,2021.8 L231.2,2010.0 L234.4,1996.6 L234.4,1991.5M234.4,1983.6 L234.4,1956.3 L235.1,1953.1M236.9,1945.3 L237.5,1942.9 L237.5,1914.8M237.5,1906.9 L237.5,1902.6 L240.6,1889.2 L240.6,1876.6M240.6,1868.6 L240.6,1848.9 L243.1,1838.3M243.8,1830.4 L243.8,1799.9M244.5,1792.0 L246.9,1781.8 L246.9,1761.7M246.9,1753.7 L246.9,1741.6 L250.0,1728.1 L250.0,1723.5M250.0,1715.5 L250.0,1701.3 L253.1,1687.9 L253.1,1685.3M253.1,1677.3 L253.1,1647.6 L253.3,1646.8M255.1,1639.0 L256.2,1634.2 L256.2,1608.6M256.2,1600.6 L256.2,1593.9 L259.4,1580.5 L259.4,1570.3M259.4,1562.4 L259.4,1540.2 L261.3,1532.0M262.5,1524.2 L262.5,1493.6M262.7,1485.7 L265.6,1473.1 L265.6,1461.3 L268.8,1461.3 L268.8,1461.6 L271.9,1461.9 L271.9,1461.9M276.3,1466.9 L278.1,1467.5 L278.1,1471.1 L281.2,1472.5 L281.2,1477.1 L284.4,1478.9 L284.4,1484.6 L287.5,1486.6 L287.5,1491.7M290.6,1498.5 L290.6,1506.8 L293.8,1510.1 L293.8,1520.6 L296.9,1524.3 L296.9,1527.1M296.9,1535.1 L296.9,1535.8 L300.0,1539.7 L300.0,1552.0 L303.1,1556.3 L303.1,1563.9M304.7,1571.5 L306.2,1573.7 L306.2,1587.4 L309.4,1592.0 L309.4,1600.9M310.9,1608.5 L312.5,1610.8 L312.5,1625.2 L315.6,1630.1 L315.6,1637.9M316.3,1645.7 L318.8,1649.5 L318.8,1664.1 L321.9,1669.0 L321.9,1674.9M321.9,1682.9 L321.9,1683.5 L325.0,1688.3 L325.0,1702.5 L328.1,1707.2 L328.1,1711.9M328.1,1719.9 L328.1,1721.0 L331.2,1725.5 L331.2,1738.8 L334.4,1743.1 L334.4,1748.8M335.1,1756.6 L337.5,1759.8 L337.5,1771.6 L340.6,1775.3 L340.6,1785.6M343.8,1792.6 L343.8,1799.5 L346.9,1802.6 L346.9,1811.4 L350.0,1814.1 L350.0,1820.9M353.1,1827.6 L353.1,1830.1 L356.2,1831.9 L356.2,1836.8 L359.4,1838.2 L359.4,1841.7 L362.5,1842.6 L362.5,1844.6 L365.6,1845.1 L365.6,1845.6 L368.8,1845.6 L368.8,1844.7 L370.1,1844.5M375.0,1839.7 L375.0,1837.1 L378.1,1835.6 L378.1,1830.4 L381.2,1828.5 L381.2,1822.0 L384.4,1819.6 L384.4,1814.6 L385.2,1813.9M387.5,1806.7 L387.5,1803.2 L390.6,1800.1 L390.6,1790.3 L393.8,1786.9 L393.8,1778.3M396.9,1771.2 L396.9,1760.5 L400.0,1756.5 L400.0,1743.9 L401.5,1741.9M403.1,1734.4 L403.1,1726.4 L406.2,1721.8 L406.2,1708.0 L408.2,1705.1M409.4,1697.4 L409.4,1689.2 L412.5,1684.4 L412.5,1669.9 L413.8,1667.9M415.6,1660.4 L415.6,1650.4 L418.8,1645.6 L418.8,1631.0 L419.0,1630.6M421.9,1623.3 L421.9,1611.7 L425.0,1607.0 L425.0,1593.6M428.1,1586.4 L428.1,1574.6 L431.2,1570.1 L431.2,1557.1 L431.5,1556.7M434.4,1549.5 L434.4,1540.5 L437.5,1536.5 L437.5,1525.0 L440.6,1521.3 L440.6,1520.7M440.6,1512.8 L440.6,1510.8 L443.8,1507.4 L443.8,1497.9 L446.9,1495.0 L446.9,1486.6 L448.8,1485.1M450.0,1477.6 L450.0,1477.0 L453.1,1474.8 L453.1,1469.1 L456.2,1467.4 L456.2,1463.0 L459.4,1461.7 L459.4,1458.7 L462.5,1458.0 L462.5,1456.4 L465.4,1456.2M471.9,1459.0 L471.9,1461.1 L475.0,1462.3 L475.0,1466.5 L478.1,1468.2 L478.1,1473.8 L481.2,1475.9 L481.2,1482.8 L482.9,1484.1M484.4,1491.5 L484.4,1493.5 L487.5,1496.4 L487.5,1505.7 L490.6,1509.0 L490.6,1519.4 L490.9,1519.8M493.8,1526.9 L493.8,1534.5 L496.9,1538.4 L496.9,1550.7 L500.0,1554.9 L500.0,1555.8M500.0,1563.7 L500.0,1567.8 L503.1,1572.3 L503.1,1585.9 L506.2,1590.5 L506.2,1592.7M506.2,1600.7 L506.2,1604.5 L509.4,1609.3 L509.4,1623.7 L512.5,1628.5 L512.5,1629.7M512.5,1637.7 L512.5,1643.1 L515.6,1647.9 L515.6,1662.5 L518.4,1666.8M518.8,1674.7 L518.8,1677.1 L521.9,1681.9 L521.9,1696.2 L525.0,1700.9 L525.0,1703.8M525.0,1711.7 L525.0,1714.9 L528.1,1719.5 L528.1,1733.0 L531.2,1737.3 L531.2,1740.7M531.2,1748.7 L531.2,1750.2 L534.4,1754.3 L534.4,1766.4 L537.5,1770.3 L537.5,1777.5M540.2,1784.6 L540.6,1785.1 L540.6,1795.3 L543.8,1798.5 L543.8,1807.6 L546.9,1810.4 L546.9,1812.9M549.0,1820.0 L550.0,1820.8 L550.0,1827.5 L553.1,1829.5 L553.1,1834.8 L556.2,1836.3 L556.2,1840.3 L559.4,1841.3 L559.4,1843.9 L560.9,1844.1M568.1,1844.9 L568.8,1844.9 L568.8,1843.0 L571.9,1842.2 L571.9,1838.9 L575.0,1837.5 L575.0,1832.9 L578.1,1831.1 L578.1,1825.0 L581.2,1822.8 L581.2,1821.5M582.8,1814.1 L584.4,1812.8 L584.4,1804.2 L587.5,1801.1 L587.5,1791.4 L590.6,1788.0 L590.6,1786.2M590.6,1778.3 L590.6,1777.3 L593.8,1773.5 L593.8,1761.8 L596.9,1757.8 L596.9,1749.5M599.2,1742.1 L600.0,1741.0 L600.0,1727.8 L603.1,1723.3 L603.1,1712.6M606.0,1705.3 L606.2,1704.9 L606.2,1690.7 L609.4,1685.9 L609.4,1675.6M611.5,1668.1 L612.5,1666.6 L612.5,1652.0 L615.6,1647.2 L615.6,1638.6M616.7,1630.9 L618.8,1627.7 L618.8,1613.3 L621.9,1608.5 L621.9,1601.5M622.4,1593.7 L625.0,1589.8 L625.0,1576.1 L628.1,1571.6 L628.1,1564.6M629.3,1556.9 L631.2,1554.2 L631.2,1541.8 L634.4,1537.8 L634.4,1527.8M637.5,1520.7 L637.5,1511.9 L640.6,1508.5 L640.6,1498.9 L643.8,1495.9 L643.8,1492.3M646.4,1485.3 L646.9,1484.9 L646.9,1477.7 L650.0,1475.5 L650.0,1469.6 L653.1,1467.9 L653.1,1464.8 L656.2,1463.4 L656.2,1459.9 L656.7,1459.8M662.5,1456.0 L665.6,1456.0 L665.6,1456.9 L668.8,1457.4 L668.8,1459.8 L671.9,1460.8 L671.9,1464.5 L675.0,1466.0 L675.0,1471.2 L678.1,1473.1 L678.1,1476.5M681.2,1483.2 L681.2,1489.7 L684.4,1492.5 L684.4,1501.5 L687.5,1504.7 L687.5,1511.5M690.6,1518.5 L690.6,1529.3 L693.8,1533.2 L693.8,1545.2 L695.6,1547.7M696.9,1555.3 L696.9,1562.0 L700.0,1566.4 L700.0,1579.8 L703.1,1584.3M703.1,1592.2 L703.1,1598.3 L706.2,1603.0 L706.2,1617.3 L708.9,1621.4M709.4,1629.2 L709.4,1636.6 L712.5,1641.5 L712.5,1656.1 L714.2,1658.6M715.6,1666.3 L715.6,1675.5 L718.8,1680.3 L718.8,1694.7 L719.5,1695.9M721.9,1703.3 L721.9,1713.4 L725.0,1718.0 L725.0,1731.5 L725.9,1732.8M728.1,1740.2 L728.1,1748.8 L731.2,1753.0 L731.2,1765.1 L734.4,1769.0M734.4,1777.0 L734.4,1780.3 L737.5,1783.9 L737.5,1794.2 L740.6,1797.4 L740.6,1805.6M743.8,1812.4 L743.8,1817.5 L746.9,1820.0 L746.9,1826.8 L750.0,1828.8 L750.0,1834.3 L753.1,1835.8 L753.1,1838.7M757.5,1843.9 L759.4,1844.3 L759.4,1845.5 L762.5,1845.6 L762.5,1845.3 L765.6,1845.0 L765.6,1843.3 L768.8,1842.5 L768.8,1839.3 L771.9,1838.0 L771.9,1833.4 L775.0,1831.7 L775.0,1828.5M778.1,1821.9 L778.1,1816.3 L781.2,1813.7 L781.2,1805.2 L784.4,1802.2 L784.4,1795.8 L786.0,1794.1M787.5,1786.7 L787.5,1782.1 L790.6,1778.5 L790.6,1767.1 L793.8,1763.1 L793.8,1757.9M794.3,1750.1 L796.9,1746.7 L796.9,1733.7 L800.0,1729.3 L800.0,1721.0M801.5,1713.5 L803.1,1711.1 L803.1,1697.0 L806.2,1692.3 L806.2,1684.1M807.3,1676.3 L809.4,1673.1 L809.4,1658.5 L812.5,1653.6 L812.5,1647.0M812.5,1639.1 L812.5,1639.0 L815.6,1634.2 L815.6,1619.7 L818.8,1614.9 L818.8,1610.0M818.8,1602.0 L818.8,1600.6 L821.9,1595.9 L821.9,1582.1 L825.0,1577.5 L825.0,1573.0M825.0,1565.1 L825.0,1564.2 L828.1,1559.9 L828.1,1547.2 L831.2,1543.1 L831.2,1536.2M833.3,1528.8 L834.4,1527.5 L834.4,1516.5 L837.5,1513.0 L837.5,1503.1 L840.1,1500.4M840.6,1492.7 L840.6,1491.1 L843.8,1488.4 L843.8,1480.8 L846.9,1478.5 L846.9,1472.1 L850.0,1470.2 L850.0,1466.0M853.7,1460.1 L856.2,1459.3 L856.2,1457.1 L859.4,1456.7 L859.4,1456.0 L862.5,1456.0 L862.5,1456.7 L865.6,1457.2 L865.6,1459.4 L868.8,1460.4 L868.8,1464.1 L871.9,1465.5 L871.9,1469.7M875.0,1476.2 L875.0,1478.8 L878.1,1481.2 L878.1,1488.9 L881.2,1491.6 L881.2,1500.5 L884.1,1503.4M884.4,1511.3 L884.4,1513.6 L887.5,1517.1 L887.5,1528.1 L890.6,1531.9 L890.6,1539.9M893.2,1547.2 L893.8,1547.9 L893.8,1560.6 L896.9,1565.0 L896.9,1576.8M900.0,1584.0 L900.0,1596.7 L903.1,1601.4 L903.1,1613.7M906.2,1621.0 L906.2,1635.0 L909.4,1639.9 L909.4,1650.8M911.7,1658.2 L912.5,1659.3 L912.5,1673.9 L915.6,1678.7 L915.6,1687.8M917.1,1695.4 L918.8,1697.8 L918.8,1707.2 L921.9,1711.9 L921.9,1724.8M925.0,1732.0 L925.0,1743.2 L928.1,1747.4 L928.1,1759.8 L929.3,1761.3M931.2,1768.8 L931.2,1775.4 L934.4,1779.1 L934.4,1789.7 L937.5,1793.1 L937.5,1797.4M939.5,1804.7 L940.6,1805.7 L940.6,1814.1 L943.8,1816.7 L943.8,1823.9 L946.9,1826.1 L946.9,1832.0 L947.2,1832.1M950.5,1838.4 L953.1,1839.5 L953.1,1842.6 L956.2,1843.4 L956.2,1845.1 L959.4,1845.4 L959.4,1845.6 L962.5,1845.4 L962.5,1844.2 L965.6,1843.5 L965.6,1840.8 L968.8,1839.7 L968.8,1835.6 L969.4,1835.2M971.9,1828.5 L971.9,1828.5 L975.0,1826.4 L975.0,1819.6 L978.1,1817.1 L978.1,1809.0 L981.2,1806.1 L981.2,1801.7M983.5,1794.5 L984.4,1793.6 L984.4,1783.3 L987.5,1779.7 L987.5,1768.4 L989.6,1765.8M990.6,1758.1 L990.6,1752.3 L993.8,1748.1 L993.8,1735.2 L996.9,1730.7 L996.9,1729.2M996.9,1721.2 L996.9,1717.2 L1000.0,1712.6 L1000.0,1698.6 L1003.1,1693.8 L1003.1,1692.2M1003.1,1684.3 L1003.1,1679.5 L1006.2,1674.7 L1006.2,1660.1 L1009.4,1655.2 L1009.4,1655.2M1009.4,1647.2 L1009.4,1640.6 L1012.5,1635.8 L1012.5,1621.2 L1014.7,1617.9M1015.6,1610.2 L1015.6,1602.2 L1018.8,1597.5 L1018.8,1583.6 L1020.6,1580.9M1021.9,1573.2 L1021.9,1565.7 L1025.0,1561.3 L1025.0,1548.6 L1028.1,1544.5 L1028.1,1544.3M1028.1,1536.4 L1028.1,1532.5 L1031.2,1528.7 L1031.2,1517.7 L1034.4,1514.1 L1034.4,1507.7M1037.5,1500.8 L1037.5,1492.1 L1040.6,1489.3 L1040.6,1481.6 L1043.8,1479.2 L1043.8,1472.8 L1043.8,1472.7M1046.9,1466.1 L1046.9,1465.8 L1050.0,1464.3 L1050.0,1460.6 L1053.1,1459.6 L1053.1,1458.0 L1056.2,1457.3 L1056.2,1456.1 L1059.4,1456.0 L1059.4,1456.3 L1062.5,1456.6 L1062.5,1458.3 L1065.6,1459.1 L1065.6,1462.3 L1066.7,1462.8M1070.1,1469.0 L1071.9,1470.0 L1071.9,1475.9 L1075.0,1478.1 L1075.0,1485.3 L1078.1,1488.0 L1078.1,1496.1M1081.2,1503.0 L1081.2,1509.1 L1084.4,1512.5 L1084.4,1523.2 L1087.5,1526.9 L1087.5,1531.6M1088.2,1539.4 L1090.6,1542.5 L1090.6,1554.9 L1093.8,1559.2 L1093.8,1568.4M1096.2,1575.8 L1096.9,1576.8 L1096.9,1590.6 L1100.0,1595.2 L1100.0,1605.4M1102.3,1612.8 L1103.1,1614.1 L1103.1,1628.6 L1106.2,1633.4 L1106.2,1642.4M1107.6,1650.1 L1109.4,1652.9 L1109.4,1667.5 L1112.5,1672.3 L1112.5,1679.4M1112.9,1687.3 L1115.6,1691.5 L1115.6,1705.7 L1118.8,1710.4 L1118.8,1716.4M1118.9,1724.4 L1121.9,1728.6 L1121.9,1741.8 L1125.0,1746.0 L1125.0,1753.3M1126.8,1760.8 L1128.1,1762.5 L1128.1,1774.2 L1131.2,1777.9 L1131.2,1788.6 L1132.3,1789.7M1134.4,1797.0 L1134.4,1801.7 L1137.5,1804.7 L1137.5,1813.2 L1140.6,1815.9 L1140.6,1823.2 L1142.5,1824.5M1144.3,1831.7 L1146.9,1833.2 L1146.9,1837.8 L1150.0,1839.1 L1150.0,1842.3 L1153.1,1843.2 L1153.1,1844.9 L1156.2,1845.3 L1156.2,1845.6 L1159.4,1845.5 L1159.4,1844.4 L1162.5,1843.7 L1162.5,1841.4M1166.4,1835.7 L1168.8,1834.5 L1168.8,1829.1 L1171.9,1827.1 L1171.9,1820.4 L1175.0,1817.9 L1175.0,1810.0 L1175.7,1809.3M1178.1,1802.2 L1178.1,1797.9 L1181.2,1794.7 L1181.2,1784.5 L1184.4,1780.9 L1184.4,1773.6M1187.5,1766.5 L1187.5,1757.7 L1190.6,1753.6 L1190.6,1740.9 L1193.1,1737.5M1193.8,1729.7 L1193.8,1723.2 L1196.9,1718.7 L1196.9,1704.8 L1199.7,1700.6M1200.0,1692.7 L1200.0,1685.9 L1203.1,1681.1 L1203.1,1666.6 L1205.2,1663.4M1206.2,1655.7 L1206.2,1647.1 L1209.4,1642.2 L1209.4,1627.7 L1210.4,1626.1M1212.5,1618.7 L1212.5,1608.5 L1215.6,1603.7 L1215.6,1589.7 L1216.1,1589.0M1218.8,1581.7 L1218.8,1571.5 L1221.9,1567.1 L1221.9,1554.1 L1223.2,1552.3M1225.0,1544.8 L1225.0,1537.7 L1228.1,1533.8 L1228.1,1522.5 L1231.2,1518.8 L1231.2,1516.1M1231.5,1508.2 L1234.4,1505.2 L1234.4,1495.9 L1237.5,1493.0 L1237.5,1484.9 L1240.6,1482.4 L1240.6,1480.9M1242.9,1474.0 L1243.8,1473.4 L1243.8,1467.9 L1246.9,1466.3 L1246.9,1462.1 L1250.0,1460.9 L1250.0,1458.2 L1253.1,1457.5 L1253.1,1456.2 L1256.2,1456.0 L1256.2,1456.2 L1259.4,1456.5 L1259.4,1457.6M1264.0,1462.5 L1265.6,1463.2 L1265.6,1467.6 L1268.8,1469.4 L1268.8,1475.2 L1271.9,1477.4 L1271.9,1484.5 L1275.0,1487.1 L1275.0,1488.1M1275.4,1495.9 L1278.1,1498.5 L1278.1,1508.0 L1281.2,1511.4 L1281.2,1522.0 L1283.0,1524.0M1284.4,1531.6 L1284.4,1537.2 L1287.5,1541.2 L1287.5,1553.6 L1290.6,1557.8 L1290.6,1560.4M1290.6,1568.4 L1290.6,1570.9 L1293.8,1575.4 L1293.8,1589.0 L1296.9,1593.7 L1296.9,1597.3M1296.9,1605.3 L1296.9,1607.8 L1300.0,1612.6 L1300.0,1627.0 L1303.1,1631.8 L1303.1,1634.4M1303.1,1642.3 L1303.1,1646.4 L1306.2,1651.3 L1306.2,1665.9 L1309.4,1670.7 L1309.4,1671.4M1309.4,1679.4 L1309.4,1685.2 L1312.5,1690.0 L1312.5,1704.2 L1315.4,1708.5M1315.6,1716.4 L1315.6,1722.6 L1318.8,1727.1 L1318.8,1736.0 L1321.9,1740.3 L1321.9,1745.3M1322.0,1753.2 L1325.0,1757.2 L1325.0,1769.1 L1328.1,1772.9 L1328.1,1782.1M1331.2,1789.1 L1331.2,1797.5 L1334.4,1800.7 L1334.4,1809.6 L1337.5,1812.3 L1337.5,1817.4M1340.6,1824.1 L1340.6,1828.8 L1343.8,1830.8 L1343.8,1835.9 L1346.9,1837.3 L1346.9,1841.0 L1350.0,1842.0 L1350.0,1844.3 L1353.1,1844.8 L1353.1,1845.6 L1355.0,1845.6M1360.8,1842.0 L1362.5,1841.5 L1362.5,1838.0 L1365.6,1836.6 L1365.6,1831.6 L1368.8,1829.8 L1368.8,1823.5 L1371.9,1821.2 L1371.9,1817.0M1375.0,1810.2 L1375.0,1802.1 L1378.1,1799.0 L1378.1,1789.1 L1381.2,1785.6 L1381.2,1781.7M1381.9,1773.9 L1384.4,1770.9 L1384.4,1759.1 L1387.5,1755.0 L1387.5,1745.0M1390.6,1737.8 L1390.6,1724.7 L1393.8,1720.2 L1393.8,1708.0M1396.9,1700.8 L1396.9,1687.4 L1400.0,1682.6 L1400.0,1671.0M1402.8,1663.7 L1403.1,1663.3 L1403.1,1648.7 L1406.2,1643.8 L1406.2,1634.0M1408.0,1626.5 L1409.4,1624.4 L1409.4,1610.0 L1412.5,1605.3 L1412.5,1597.0M1413.8,1589.3 L1415.6,1586.6 L1415.6,1573.0 L1418.8,1568.5 L1418.8,1560.1M1420.9,1552.7 L1421.9,1551.3 L1421.9,1539.0 L1425.0,1535.1 L1425.0,1523.7 L1425.3,1523.3M1428.1,1516.2 L1428.1,1509.6 L1431.2,1506.2 L1431.2,1496.9 L1434.4,1493.9 L1434.4,1487.8M1437.5,1481.0 L1437.5,1476.2 L1440.6,1474.1 L1440.6,1468.4 L1443.8,1466.8 L1443.8,1462.5 L1446.9,1461.3 L1446.9,1458.4 L1450.0,1457.7 L1450.0,1457.4M1456.3,1457.3 L1459.4,1457.9 L1459.4,1460.4 L1462.5,1461.5 L1462.5,1465.5 L1465.6,1467.1 L1465.6,1472.5 L1468.8,1474.5 L1468.8,1480.7M1471.9,1487.5 L1471.9,1491.7 L1475.0,1494.5 L1475.0,1503.7 L1478.1,1506.9 L1478.1,1515.9M1481.2,1522.9 L1481.2,1532.0 L1484.4,1535.9 L1484.4,1548.0 L1487.2,1551.8M1487.5,1559.7 L1487.5,1565.0 L1490.6,1569.4 L1490.6,1582.9 L1493.8,1587.5 L1493.8,1588.6M1493.8,1596.6 L1493.8,1601.5 L1496.9,1606.2 L1496.9,1620.6 L1500.0,1625.4 L1500.0,1625.6M1500.0,1633.6 L1500.0,1640.0 L1503.1,1644.8 L1503.1,1659.4 L1505.3,1662.9M1506.2,1670.6 L1506.2,1678.8 L1509.4,1683.6 L1509.4,1697.9 L1510.8,1700.1M1512.5,1707.6 L1512.5,1716.6 L1515.6,1721.1 L1515.6,1734.6 L1517.3,1737.0M1518.8,1744.6 L1518.8,1751.7 L1521.9,1755.8 L1521.9,1767.8 L1525.0,1771.7 L1525.0,1773.4M1525.0,1781.3 L1525.0,1782.8 L1528.1,1786.3 L1528.1,1796.5 L1531.2,1799.6 L1531.2,1808.6 L1532.2,1809.5M1534.4,1816.7 L1534.4,1819.3 L1537.5,1821.7 L1537.5,1828.2 L1540.6,1830.2 L1540.6,1835.4 L1543.8,1836.9 L1543.8,1840.7 L1546.1,1841.5M1551.2,1845.6 L1553.1,1845.6 L1553.1,1845.1 L1556.2,1844.7 L1556.2,1842.7 L1559.4,1841.8 L1559.4,1838.4 L1562.5,1837.0 L1562.5,1832.2 L1565.6,1830.4 L1565.6,1824.4M1568.8,1817.7 L1568.8,1814.5 L1571.9,1811.8 L1571.9,1803.1 L1575.0,1800.0 L1575.0,1790.2 L1575.6,1789.6M1578.1,1782.4 L1578.1,1775.9 L1581.2,1772.1 L1581.2,1760.4 L1584.4,1756.3 L1584.4,1753.6M1584.4,1745.7 L1584.4,1743.8 L1587.5,1739.4 L1587.5,1730.7 L1590.6,1726.2 L1590.6,1716.7M1592.8,1709.3 L1593.8,1707.9 L1593.8,1693.8 L1596.9,1689.0 L1596.9,1679.8M1598.4,1672.2 L1600.0,1669.7 L1600.0,1655.1 L1603.1,1650.3 L1603.1,1642.7M1603.6,1634.9 L1606.2,1630.8 L1606.2,1616.4 L1609.4,1611.6 L1609.4,1605.7M1609.4,1597.7 L1609.4,1597.4 L1612.5,1592.7 L1612.5,1578.9 L1615.6,1574.4 L1615.6,1568.7M1615.9,1560.8 L1618.8,1556.9 L1618.8,1544.4 L1621.9,1540.3 L1621.9,1531.9M1625.0,1524.9 L1625.0,1514.1 L1628.1,1510.7 L1628.1,1500.9 L1631.2,1497.8 L1631.2,1496.4M1631.9,1488.7 L1634.4,1486.6 L1634.4,1479.2 L1637.5,1476.9 L1637.5,1470.8 L1640.6,1469.0 L1640.6,1464.3 L1643.1,1463.2M1646.9,1457.6 L1646.9,1456.8 L1650.0,1456.4 L1650.0,1456.0 L1653.1,1456.0 L1653.1,1457.1 L1656.2,1457.6 L1656.2,1460.1 L1659.4,1461.2 L1659.4,1465.1 L1662.5,1466.6 L1662.5,1471.9 L1664.4,1473.1M1665.7,1480.5 L1668.8,1482.9 L1668.8,1490.7 L1671.9,1493.6 L1671.9,1502.6 L1675.0,1505.9 L1675.0,1507.6M1675.0,1515.6 L1675.0,1516.0 L1678.1,1519.6 L1678.1,1530.7 L1681.2,1534.6 L1681.2,1544.3M1684.4,1551.4 L1684.4,1563.6 L1687.5,1568.0 L1687.5,1581.1M1690.6,1588.3 L1690.6,1600.0 L1693.8,1604.7 L1693.8,1618.1M1696.9,1625.3 L1696.9,1638.4 L1700.0,1643.2 L1700.0,1655.1M1702.9,1662.4 L1703.1,1662.7 L1703.1,1677.2 L1706.2,1682.1 L1706.2,1692.2M1708.4,1699.6 L1709.4,1701.1 L1709.4,1715.1 L1712.5,1719.6 L1712.5,1729.1M1714.9,1736.5 L1715.6,1737.5 L1715.6,1750.3 L1718.8,1754.5 L1718.8,1762.6 L1720.9,1765.4M1721.9,1773.1 L1721.9,1778.0 L1725.0,1781.6 L1725.0,1792.1 L1728.1,1795.4 L1728.1,1801.7M1731.2,1808.6 L1731.2,1815.9 L1734.4,1818.5 L1734.4,1825.4 L1737.5,1827.5 L1737.5,1833.2 L1740.6,1834.8 L1740.6,1834.9M1743.8,1841.1 L1743.8,1843.2 L1746.9,1843.9 L1746.9,1845.3 L1750.0,1845.5 L1750.0,1845.5 L1753.1,1845.2 L1753.1,1843.7 L1756.2,1843.0 L1756.2,1840.1 L1759.4,1838.8 L1759.4,1834.5 L1762.5,1832.8 L1762.5,1832.1M1765.1,1825.3 L1765.6,1824.9 L1765.6,1817.9 L1768.8,1815.3 L1768.8,1807.1 L1771.9,1804.1 L1771.9,1797.3M1775.0,1790.3 L1775.0,1780.8 L1778.1,1777.1 L1778.1,1765.7 L1781.2,1761.7 L1781.2,1761.6M1781.2,1753.6 L1781.2,1749.4 L1784.4,1745.2 L1784.4,1732.1 L1787.5,1727.7 L1787.5,1724.7" stroke="#00f" stroke-width="11.5"/></g>
<path d="M1030,2003.5H1161" stroke="#f00" stroke-width="11"/>
<path d="M1030,2081.5H1161" stroke="#00f" stroke-width="11" stroke-dasharray="33.2 10"/>
</g>
<g font-family='"Liberation Serif", serif' style="font-kerning:none" fill="#000">
<text transform="translate(1175.98,2029.00) scale(1.0800,1)" font-size="65" style="letter-spacing:0.308px;word-spacing:0.0px" fill="#000">Reference Velocity</text>
<text transform="translate(1176.81,2107.10) scale(1.0800,1)" font-size="65" style="letter-spacing:0.646px;word-spacing:0.0px" fill="#000">Actual Velocity</text>
<text transform="translate(133.87,1328.30) scale(1.0700,1)" font-size="67" style="letter-spacing:2.400px">60</text>
<text transform="translate(133.87,1500.10) scale(1.0700,1)" font-size="67" style="letter-spacing:2.400px">50</text>
<text transform="translate(133.87,1673.30) scale(1.0700,1)" font-size="67" style="letter-spacing:2.400px">40</text>
<text transform="translate(133.87,1846.50) scale(1.0700,1)" font-size="67" style="letter-spacing:2.400px">30</text>
<text transform="translate(133.87,2019.70) scale(1.0700,1)" font-size="67" style="letter-spacing:2.400px">20</text>
<text transform="translate(133.87,2192.90) scale(1.0700,1)" font-size="67" style="letter-spacing:2.400px">10</text>
<text transform="translate(169.48,2367.00) scale(1.0670,1)" font-size="67" style="letter-spacing:0.000px;word-spacing:0.0px" fill="#000">0</text>
<text transform="translate(201.78,2412.60) scale(1.0670,1)" font-size="67" style="letter-spacing:0.000px;word-spacing:0.0px" fill="#000">0</text>
<text transform="translate(494.40,2412.60) scale(1.0700,1)" font-size="67" style="letter-spacing:2.400px">20</text>
<text transform="translate(809.62,2412.60) scale(1.0700,1)" font-size="67" style="letter-spacing:2.400px">40</text>
<text transform="translate(1123.12,2412.60) scale(1.0700,1)" font-size="67" style="letter-spacing:2.400px">60</text>
<text transform="translate(1437.63,2412.60) scale(1.0700,1)" font-size="67" style="letter-spacing:2.400px">80</text>
<text transform="translate(1738.50,2412.60) scale(1.0700,1)" font-size="67" style="letter-spacing:-0.048px;word-spacing:0.0px" fill="#000">100</text>
<text transform="translate(966.86,2297.40) scale(1.0500,1)" font-size="81" style="letter-spacing:2.003px;word-spacing:0.0px" fill="#000">(b)</text>
<text transform="translate(848.72,2493.00) scale(1.0800,1)" font-size="81" style="letter-spacing:0.904px;word-spacing:0.0px" fill="#000">Time (s)</text>
<text transform="translate(85.40,2299.36) rotate(-90) scale(1.0100,1)" font-size="81" style="letter-spacing:0.259px;word-spacing:0.0px" fill="#000">Longitudinal Velocity (km/h)</text>
</g>
</svg>
</body></html>
